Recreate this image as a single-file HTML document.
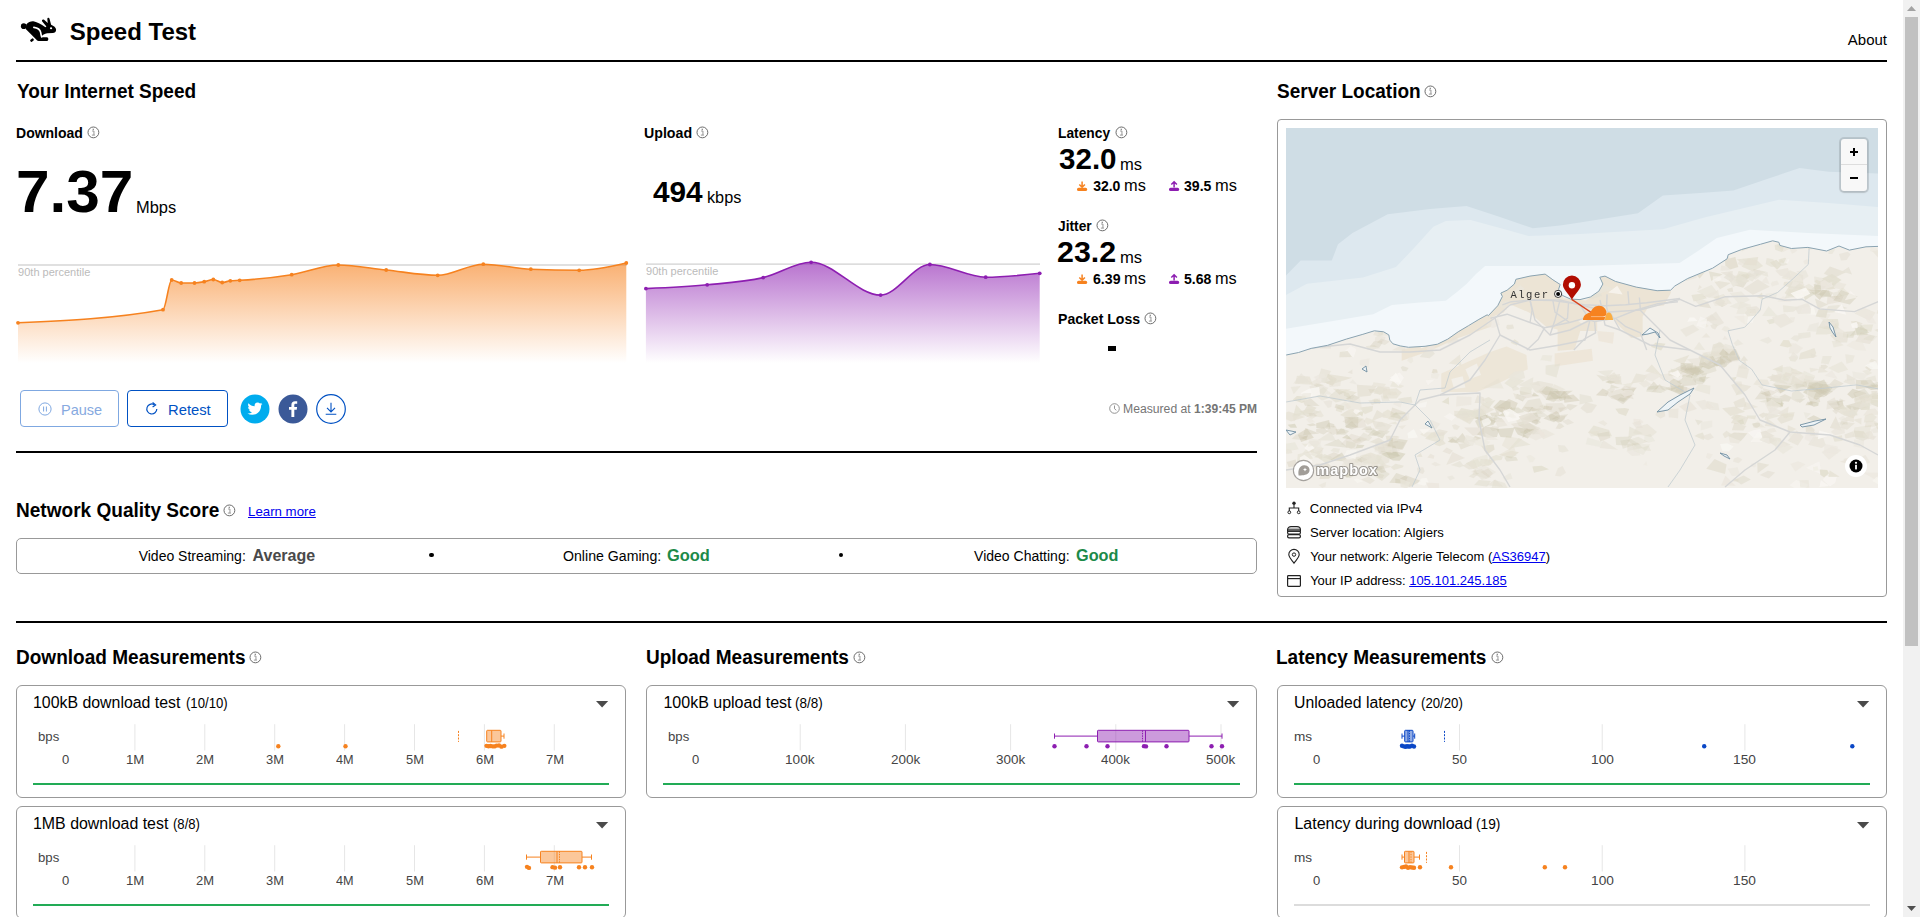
<!DOCTYPE html><html><head><meta charset="utf-8"><title>Speed Test</title><style>
*{box-sizing:border-box;margin:0;padding:0}
html,body{width:1920px;height:917px;overflow:hidden;background:#fff}
body{font-family:"Liberation Sans",sans-serif;color:#000;position:relative}
.a{position:absolute;white-space:nowrap;line-height:1}
.b{font-weight:bold}
.hr{position:absolute;background:#000;height:2px}
.panel{position:absolute;border:1px solid #999;border-radius:5px;background:#fff}
a{color:#0000ee;text-decoration:underline}
svg{position:absolute;overflow:visible}
.ax{font-size:13px;color:#444;text-align:center;width:60px;margin-left:-30px}
</style></head><body><svg id="rabbit" style="left:16px;top:12px" width="48" height="36" viewBox="0 0 1223 917"><circle cx="197" cy="360" r="72" fill="#000"/><path d="M262 318 C310 262 380 232 440 237 C520 245 640 310 750 390 L775 372 L668 242 C648 205 680 178 716 200 L808 278 L798 182 C798 148 836 138 852 165 L895 325 C960 350 1022 400 1022 452 C1022 512 980 534 940 534 L800 541 C750 546 720 568 676 592 L650 642 L785 642 C824 644 824 690 824 690 C824 736 790 739 790 739 L575 739 C545 737 528 716 528 716 L248 434 Z" fill="#000"/><path d="M455 390 C545 402 612 440 628 520 C636 570 640 600 654 632" fill="none" stroke="#fff" stroke-width="42" stroke-linecap="round"/><ellipse cx="893" cy="414" rx="29" ry="25" fill="#fff"/><rect x="360" y="686" width="96" height="60" rx="22" transform="rotate(-38 408 716)" fill="#000"/></svg><div class="a b" style="left:69.85px;top:20px;font-size:24px;">Speed Test</div><div class="a" style="left:1847.80px;top:32px;font-size:15px;">About</div><div class="hr" style="left:16px;top:60px;width:1871px"></div><div class="a b" style="left:16.54px;top:81px;font-size:20px;transform:scaleX(0.9498);transform-origin:0 0;">Your Internet Speed</div><div class="a b" style="left:16.02px;top:126px;font-size:14px;">Download</div><svg style="left:87.1px;top:126.1px" width="12.8" height="12.8" viewBox="-6.4 -6.4 12.8 12.8"><circle r="5.4" fill="none" stroke="#5c5c5c" stroke-width="0.9"/><path d="M-1.3 -1.4H0.55V2.7H1.5M-1.5 2.7H0.55" fill="none" stroke="#8c8c8c" stroke-width="0.9"/><rect x="-0.75" y="-3.7" width="1.3" height="1.3" fill="#8c8c8c"/></svg><div class="a b" style="left:15.86px;top:162px;font-size:60px;transform:scaleX(1.0054);transform-origin:0 0;">7.37</div><div class="a" style="left:136.47px;top:200px;font-size:16px;transform:scaleX(1.0268);transform-origin:0 0;">Mbps</div><div class="a b" style="left:644.11px;top:126px;font-size:14px;transform:scaleX(1.0137);transform-origin:0 0;">Upload</div><svg style="left:696.1px;top:126.1px" width="12.8" height="12.8" viewBox="-6.4 -6.4 12.8 12.8"><circle r="5.4" fill="none" stroke="#5c5c5c" stroke-width="0.9"/><path d="M-1.3 -1.4H0.55V2.7H1.5M-1.5 2.7H0.55" fill="none" stroke="#8c8c8c" stroke-width="0.9"/><rect x="-0.75" y="-3.7" width="1.3" height="1.3" fill="#8c8c8c"/></svg><div class="a b" style="left:652.60px;top:177px;font-size:30px;transform:scaleX(0.9924);transform-origin:0 0;">494</div><div class="a" style="left:706.76px;top:190px;font-size:16px;transform:scaleX(1.0156);transform-origin:0 0;">kbps</div><svg style="left:0;top:0" width="1920" height="917" viewBox="0 0 1920 917"><defs><linearGradient id="gd" x1="0" y1="0" x2="0" y2="1"><stop offset="0" stop-color="#f6821f" stop-opacity="0.63"/><stop offset="1" stop-color="#f6821f" stop-opacity="0"/></linearGradient></defs><rect x="18" y="264.25" width="609" height="1.5" fill="#d6d6d6"/><path d="M18,322.8 C66.33,320.62 114.67,318.43 163,309.7 C165.90,309.18 168.80,280.00 171.7,280 C174.87,280.00 178.03,283.00 181.2,283 C185.63,283.00 190.07,283.00 194.5,283 C197.73,283.00 200.97,282.31 204.2,281.7 C207.23,281.12 210.27,279.50 213.3,279.5 C216.27,279.50 219.23,282.50 222.2,282.5 C224.90,282.50 227.60,281.09 230.3,280.8 C233.43,280.47 236.57,280.49 239.7,280.3 C257.03,279.23 274.37,277.49 291.7,274.7 C307.23,272.20 322.77,265.00 338.3,265 C354.27,265.00 370.23,268.34 386.2,270 C403.37,271.78 420.53,275.30 437.7,275.3 C452.90,275.30 468.10,264.20 483.3,264.2 C499.13,264.20 514.97,268.48 530.8,269.2 C546.93,269.93 563.07,270.30 579.2,270.3 C594.90,270.30 610.60,266.65 626.3,263 L626.3,363 L18,363 Z" fill="url(#gd)"/><path d="M18,322.8 C66.33,320.62 114.67,318.43 163,309.7 C165.90,309.18 168.80,280.00 171.7,280 C174.87,280.00 178.03,283.00 181.2,283 C185.63,283.00 190.07,283.00 194.5,283 C197.73,283.00 200.97,282.31 204.2,281.7 C207.23,281.12 210.27,279.50 213.3,279.5 C216.27,279.50 219.23,282.50 222.2,282.5 C224.90,282.50 227.60,281.09 230.3,280.8 C233.43,280.47 236.57,280.49 239.7,280.3 C257.03,279.23 274.37,277.49 291.7,274.7 C307.23,272.20 322.77,265.00 338.3,265 C354.27,265.00 370.23,268.34 386.2,270 C403.37,271.78 420.53,275.30 437.7,275.3 C452.90,275.30 468.10,264.20 483.3,264.2 C499.13,264.20 514.97,268.48 530.8,269.2 C546.93,269.93 563.07,270.30 579.2,270.3 C594.90,270.30 610.60,266.65 626.3,263" fill="none" stroke="#f6821f" stroke-width="1.6" stroke-linejoin="round"/><circle cx="18" cy="322.8" r="1.9" fill="#f6821f"/><circle cx="163" cy="309.7" r="1.9" fill="#f6821f"/><circle cx="171.7" cy="280" r="1.9" fill="#f6821f"/><circle cx="181.2" cy="283" r="1.9" fill="#f6821f"/><circle cx="194.5" cy="283" r="1.9" fill="#f6821f"/><circle cx="204.2" cy="281.7" r="1.9" fill="#f6821f"/><circle cx="213.3" cy="279.5" r="1.9" fill="#f6821f"/><circle cx="222.2" cy="282.5" r="1.9" fill="#f6821f"/><circle cx="230.3" cy="280.8" r="1.9" fill="#f6821f"/><circle cx="239.7" cy="280.3" r="1.9" fill="#f6821f"/><circle cx="291.7" cy="274.7" r="1.9" fill="#f6821f"/><circle cx="338.3" cy="265" r="1.9" fill="#f6821f"/><circle cx="386.2" cy="270" r="1.9" fill="#f6821f"/><circle cx="437.7" cy="275.3" r="1.9" fill="#f6821f"/><circle cx="483.3" cy="264.2" r="1.9" fill="#f6821f"/><circle cx="530.8" cy="269.2" r="1.9" fill="#f6821f"/><circle cx="579.2" cy="270.3" r="1.9" fill="#f6821f"/><circle cx="626.3" cy="263" r="1.9" fill="#f6821f"/></svg><div class="a" style="left:18.10px;top:267px;font-size:11px;color:#bbb">90th percentile</div><svg style="left:0;top:0" width="1920" height="917" viewBox="0 0 1920 917"><defs><linearGradient id="gu" x1="0" y1="0" x2="0" y2="1"><stop offset="0" stop-color="#8d1eb1" stop-opacity="0.62"/><stop offset="1" stop-color="#8d1eb1" stop-opacity="0"/></linearGradient></defs><rect x="646" y="263.55" width="394" height="1.1" fill="#cbcbcb"/><path d="M645.9,288.6 C666.33,287.69 686.77,286.78 707.2,284.8 C725.87,282.99 744.53,281.92 763.2,277.6 C779.17,273.90 795.13,262.30 811.1,262.3 C834.27,262.30 857.43,295.10 880.6,295.1 C897.03,295.10 913.47,264.50 929.9,264.5 C948.50,264.50 967.10,277.20 985.7,277.2 C1003.70,277.20 1021.70,275.25 1039.7,273.3 L1039.7,363 L645.9,363 Z" fill="url(#gu)"/><path d="M645.9,288.6 C666.33,287.69 686.77,286.78 707.2,284.8 C725.87,282.99 744.53,281.92 763.2,277.6 C779.17,273.90 795.13,262.30 811.1,262.3 C834.27,262.30 857.43,295.10 880.6,295.1 C897.03,295.10 913.47,264.50 929.9,264.5 C948.50,264.50 967.10,277.20 985.7,277.2 C1003.70,277.20 1021.70,275.25 1039.7,273.3" fill="none" stroke="#8d1eb1" stroke-width="1.6" stroke-linejoin="round"/><circle cx="645.9" cy="288.6" r="1.9" fill="#8d1eb1"/><circle cx="707.2" cy="284.8" r="1.9" fill="#8d1eb1"/><circle cx="763.2" cy="277.6" r="1.9" fill="#8d1eb1"/><circle cx="811.1" cy="262.3" r="1.9" fill="#8d1eb1"/><circle cx="880.6" cy="295.1" r="1.9" fill="#8d1eb1"/><circle cx="929.9" cy="264.5" r="1.9" fill="#8d1eb1"/><circle cx="985.7" cy="277.2" r="1.9" fill="#8d1eb1"/><circle cx="1039.7" cy="273.3" r="1.9" fill="#8d1eb1"/></svg><div class="a" style="left:646.10px;top:266px;font-size:11px;color:#bbb">90th percentile</div><div class="a b" style="left:1057.89px;top:126px;font-size:14px;transform:scaleX(0.9837);transform-origin:0 0;">Latency</div><svg style="left:1115.1px;top:126.1px" width="12.8" height="12.8" viewBox="-6.4 -6.4 12.8 12.8"><circle r="5.4" fill="none" stroke="#5c5c5c" stroke-width="0.9"/><path d="M-1.3 -1.4H0.55V2.7H1.5M-1.5 2.7H0.55" fill="none" stroke="#8c8c8c" stroke-width="0.9"/><rect x="-0.75" y="-3.7" width="1.3" height="1.3" fill="#8c8c8c"/></svg><div class="a b" style="left:1058.98px;top:144px;font-size:30px;transform:scaleX(0.9854);transform-origin:0 0;">32.0</div><div class="a" style="left:1119.87px;top:157px;font-size:16px;transform:scaleX(1.0329);transform-origin:0 0;">ms</div><svg style="left:1077px;top:181.4px" width="10.2" height="10.2" viewBox="0 0 10.2 10.2"><path d="M5.1 0.4 V6 M2.3 3.4 L5.1 6.3 L7.9 3.4" fill="none" stroke="#f6821f" stroke-width="1.5"/><rect x="0" y="6.7" width="10.2" height="3.4" rx="1.6" fill="#f6821f"/></svg><div class="a b" style="left:1093.13px;top:179px;font-size:14px;">32.0</div><div class="a" style="left:1123.68px;top:178px;font-size:16px;transform:scaleX(1.0228);transform-origin:0 0;">ms</div><svg style="left:1169px;top:181.4px" width="10.2" height="10.2" viewBox="0 0 10.2 10.2"><path d="M5.1 6.6 V1 M2.3 3.5 L5.1 0.7 L7.9 3.5" fill="none" stroke="#8d1eb1" stroke-width="1.5"/><rect x="0" y="6.7" width="10.2" height="3.4" rx="1.6" fill="#8d1eb1"/></svg><div class="a b" style="left:1184.37px;top:179px;font-size:14px;transform:scaleX(1.0057);transform-origin:0 0;">39.5</div><div class="a" style="left:1214.97px;top:178px;font-size:16px;transform:scaleX(1.0278);transform-origin:0 0;">ms</div><div class="a b" style="left:1058.25px;top:219px;font-size:14px;transform:scaleX(0.9837);transform-origin:0 0;">Jitter</div><svg style="left:1095.9999999999998px;top:219.2px" width="12.8" height="12.8" viewBox="-6.4 -6.4 12.8 12.8"><circle r="5.4" fill="none" stroke="#5c5c5c" stroke-width="0.9"/><path d="M-1.3 -1.4H0.55V2.7H1.5M-1.5 2.7H0.55" fill="none" stroke="#8c8c8c" stroke-width="0.9"/><rect x="-0.75" y="-3.7" width="1.3" height="1.3" fill="#8c8c8c"/></svg><div class="a b" style="left:1057.49px;top:237px;font-size:30px;transform:scaleX(1.0116);transform-origin:0 0;">23.2</div><div class="a" style="left:1119.76px;top:250px;font-size:16px;transform:scaleX(1.0380);transform-origin:0 0;">ms</div><svg style="left:1077px;top:274.4px" width="10.2" height="10.2" viewBox="0 0 10.2 10.2"><path d="M5.1 0.4 V6 M2.3 3.4 L5.1 6.3 L7.9 3.4" fill="none" stroke="#f6821f" stroke-width="1.5"/><rect x="0" y="6.7" width="10.2" height="3.4" rx="1.6" fill="#f6821f"/></svg><div class="a b" style="left:1092.80px;top:272px;font-size:14px;transform:scaleX(1.0095);transform-origin:0 0;">6.39</div><div class="a" style="left:1123.68px;top:271px;font-size:16px;transform:scaleX(1.0228);transform-origin:0 0;">ms</div><svg style="left:1169px;top:274.4px" width="10.2" height="10.2" viewBox="0 0 10.2 10.2"><path d="M5.1 6.6 V1 M2.3 3.5 L5.1 0.7 L7.9 3.5" fill="none" stroke="#8d1eb1" stroke-width="1.5"/><rect x="0" y="6.7" width="10.2" height="3.4" rx="1.6" fill="#8d1eb1"/></svg><div class="a b" style="left:1184.40px;top:272px;font-size:14px;transform:scaleX(1.0047);transform-origin:0 0;">5.68</div><div class="a" style="left:1214.98px;top:271px;font-size:16px;transform:scaleX(1.0177);transform-origin:0 0;">ms</div><div class="a b" style="left:1057.62px;top:312px;font-size:14px;transform:scaleX(1.0044);transform-origin:0 0;">Packet Loss</div><svg style="left:1144.1px;top:312.00000000000006px" width="12.8" height="12.8" viewBox="-6.4 -6.4 12.8 12.8"><circle r="5.4" fill="none" stroke="#5c5c5c" stroke-width="0.9"/><path d="M-1.3 -1.4H0.55V2.7H1.5M-1.5 2.7H0.55" fill="none" stroke="#8c8c8c" stroke-width="0.9"/><rect x="-0.75" y="-3.7" width="1.3" height="1.3" fill="#8c8c8c"/></svg><div class="a" style="left:1108.1px;top:346.4px;width:8.1px;height:4.4px;background:#000"></div><div class="a" style="left:20px;top:390px;width:99px;height:37px;border:1px solid #7fa8e1;border-radius:4px"></div><svg style="left:37.95px;top:401.8px" width="14" height="14" viewBox="0 0 14 14"><circle cx="7" cy="7" r="6.1" fill="none" stroke="#7fa8e1" stroke-width="1"/><path d="M5.6 4.5V9.5M8.4 4.5V9.5" stroke="#7fa8e1" stroke-width="1"/></svg><div class="a" style="left:60.79px;top:402px;font-size:15px;transform:scaleX(0.9669);transform-origin:0 0;color:#86a9e0">Pause</div><div class="a" style="left:127px;top:390px;width:101px;height:37px;border:1px solid #0051c3;border-radius:4px"></div><svg style="left:145px;top:402px" width="14" height="14" viewBox="0 0 14 14"><path d="M11.8 7 A5 5 0 1 1 9.2 2.6" fill="none" stroke="#0051c3" stroke-width="1.2"/><path d="M7.6 0.6 L10.6 2.9 L7.6 5" fill="none" stroke="#0051c3" stroke-width="1.2" stroke-linejoin="miter"/></svg><div class="a" style="left:168.37px;top:402px;font-size:15px;transform:scaleX(0.9857);transform-origin:0 0;color:#0051c3">Retest</div><svg style="left:240px;top:394px" width="30" height="30" viewBox="0 0 30 30"><circle cx="15" cy="15" r="14.5" fill="#00acee"/><path transform="translate(7.5,8.3) scale(0.63)" d="M23.6 2.7c-.9.4-1.8.6-2.8.8 1-.6 1.8-1.600 2.100-2.700-.9.600-2 1-3.100 1.200A4.800 4.800 0 0 0 11.500 6.400C7.500 6.200 3.900 4.300 1.600 1.400c-1.300 2.200-.6 5.100 1.500 6.500-.8 0-1.500-.200-2.200-.600 0 2.300 1.600 4.400 3.900 4.800-.700.200-1.500.200-2.200.100.600 2 2.400 3.400 4.600 3.400A9.800 9.800 0 0 1 0 17.600a13.800 13.800 0 0 0 7.500 2.200c9.100 0 14.300-7.700 14-14.600.900-.700 1.700-1.500 2.100-2.500z" fill="#fff"/></svg><svg style="left:278px;top:394px" width="30" height="30" viewBox="0 0 30 30"><circle cx="15" cy="15" r="14.5" fill="#3b5998"/><path d="M16.300 23v-7.200h2.400l.4-2.800h-2.800v-1.800c0-.8.200-1.400 1.400-1.400h1.500V7.300c-.300 0-1.100-.100-2.200-.100-2.200 0-3.600 1.300-3.600 3.700V13H11v2.800h2.400V23z" fill="#fff"/></svg><svg style="left:316px;top:394px" width="30" height="30" viewBox="0 0 30 30"><circle cx="15" cy="15" r="14.3" fill="#fff" stroke="#0051c3" stroke-width="1.2"/><path d="M15 8.8V17.6M11 13.8L15 17.9L19 13.8M9.7 20.3H20.3" fill="none" stroke="#0051c3" stroke-width="1.1"/></svg><svg style="left:1108.9px;top:403px" width="11" height="11" viewBox="0 0 11 11"><circle cx="5.5" cy="5.5" r="4.800" fill="none" stroke="#888" stroke-width="0.9"/><path d="M5.500 2.500V5.700L7.300 7.300" fill="none" stroke="#888" stroke-width="0.9"/></svg><div class="a" style="left:1123.19px;top:403px;font-size:12px;transform:scaleX(1.0149);transform-origin:0 0;color:#757575">Measured at</div><div class="a b" style="left:1194.05px;top:403px;font-size:12px;transform:scaleX(1.0057);transform-origin:0 0;color:#757575">1:39:45 PM</div><div class="hr" style="left:16px;top:451px;width:1241px"></div><div class="a b" style="left:15.69px;top:500px;font-size:20px;transform:scaleX(0.9523);transform-origin:0 0;">Network Quality Score</div><svg style="left:222.89999999999998px;top:504.40000000000003px" width="12.8" height="12.8" viewBox="-6.4 -6.4 12.8 12.8"><circle r="5.4" fill="none" stroke="#5c5c5c" stroke-width="0.9"/><path d="M-1.3 -1.4H0.55V2.7H1.5M-1.5 2.7H0.55" fill="none" stroke="#8c8c8c" stroke-width="0.9"/><rect x="-0.75" y="-3.7" width="1.3" height="1.3" fill="#8c8c8c"/></svg><div class="a" style="left:247.78px;top:505px;font-size:13px;transform:scaleX(1.0204);transform-origin:0 0;color:#0000ee;text-decoration:underline">Learn more</div><div class="panel" style="left:16px;top:538px;width:1241px;height:36px;border-radius:5px"></div><div class="a" style="left:138.67px;top:549px;font-size:14px;">Video Streaming:</div><div class="a b" style="left:252.62px;top:548px;font-size:16px;color:#4a4a4a">Average</div><div class="a" style="left:563.07px;top:549px;font-size:14px;transform:scaleX(1.0097);transform-origin:0 0;">Online Gaming:</div><div class="a b" style="left:667.36px;top:548px;font-size:16px;transform:scaleX(1.0268);transform-origin:0 0;color:#1c8a49">Good</div><div class="a" style="left:974.08px;top:549px;font-size:14px;">Video Chatting:</div><div class="a b" style="left:1076.06px;top:548px;font-size:16px;transform:scaleX(1.0168);transform-origin:0 0;color:#1c8a49">Good</div><div class="a" style="left:429.4px;top:552.7px;width:4.6px;height:4.6px;border-radius:50%;background:#000"></div><div class="a" style="left:838.9px;top:552.7px;width:4.6px;height:4.6px;border-radius:50%;background:#000"></div><div class="hr" style="left:16px;top:621px;width:1871px"></div><div class="a b" style="left:1277.01px;top:81px;font-size:20px;transform:scaleX(0.9506);transform-origin:0 0;">Server Location</div><svg style="left:1423.9999999999998px;top:85.19999999999999px" width="12.8" height="12.8" viewBox="-6.4 -6.4 12.8 12.8"><circle r="5.4" fill="none" stroke="#5c5c5c" stroke-width="0.9"/><path d="M-1.3 -1.4H0.55V2.7H1.5M-1.5 2.7H0.55" fill="none" stroke="#8c8c8c" stroke-width="0.9"/><rect x="-0.75" y="-3.7" width="1.3" height="1.3" fill="#8c8c8c"/></svg><div class="panel" style="left:1277px;top:119px;width:610px;height:478px;border-radius:4px"></div><svg id="map" style="left:1286px;top:128px;overflow:hidden" width="592" height="360" viewBox="0 0 592 360"><defs><filter id="bl" x="-20%" y="-20%" width="140%" height="140%"><feGaussianBlur stdDeviation="2.2"/></filter><filter id="bl2"><feGaussianBlur stdDeviation="0.6"/></filter></defs><rect width="592" height="360" fill="#cfdde5"/><polygon points="0.0,147.4 14.7,132.5 45.8,132.5 52.0,116.3 66.5,104.9 101.7,86.3 144.0,81.0 180.5,78.0 214.0,89.0 246.8,100.2 274.0,97.5 294.0,94.6 352.0,85.2 376.9,67.6 414.0,65.0 447.3,62.5 484.0,50.0 513.6,40.1 542.6,43.8 592.0,45.5 592.0,362.0 0.0,362.0" fill="#dde8ef"/><polygon points="0.0,167.1 20.9,155.7 76.9,149.5 110.0,139.1 129.0,119.0 147.3,98.7 159.8,92.9 184.6,92.1 214.0,100.0 242.7,108.0 269.0,107.0 294.0,106.0 376.9,101.2 418.3,89.4 454.0,81.0 492.9,71.8 542.6,74.9 592.0,79.0 592.0,362.0 0.0,362.0" fill="#e7eff3"/><polygon points="0.0,200.7 44.0,193.5 87.2,186.2 105.9,176.9 134.0,174.5 159.8,172.7 171.0,164.0 180.5,156.1 190.0,146.0 199.1,138.1 294.0,138.1 393.5,135.0 412.0,123.0 430.8,110.1 463.9,101.8 521.9,104.9 592.0,108.0 592.0,362.0 0.0,362.0" fill="#f3f8fb"/><polygon points="0.2,227.0 12.6,224.5 25.1,220.4 41.7,217.3 60.3,211.1 76.9,206.3 88.3,202.8 97.6,203.8 102.8,206.9 103.8,212.1 106.9,215.8 114.2,217.9 122.5,219.3 139.0,218.3 151.5,216.2 161.8,211.1 172.2,203.8 182.6,197.6 192.9,191.4 201.2,186.8 202.3,187.7 211.7,177.8 216.4,168.5 214.8,165.1 221.1,162.2 228.4,156.0 229.9,151.3 244.0,148.1 259.1,146.1 266.9,151.8 274.2,156.5 272.6,161.2 276.3,167.4 284.6,171.1 294.0,171.6 304.4,169.0 312.8,163.2 316.9,156.0 313.8,149.2 319.0,148.1 329.4,153.4 350.2,159.1 371.1,162.7 384.6,162.2 388.8,158.0 401.7,150.5 426.6,140.2 441.1,130.8 442.2,126.7 455.6,121.5 474.3,116.3 486.7,112.8 492.9,114.3 493.9,117.4 505.4,120.5 521.9,119.4 540.6,123.0 553.0,118.0 563.4,122.1 580.0,118.8 592.0,118.4 592.0,362.0 0.0,362.0" fill="#f2efe9"/><clipPath id="lc"><polygon points="0.2,227.0 12.6,224.5 25.1,220.4 41.7,217.3 60.3,211.1 76.9,206.3 88.3,202.8 97.6,203.8 102.8,206.9 103.8,212.1 106.9,215.8 114.2,217.9 122.5,219.3 139.0,218.3 151.5,216.2 161.8,211.1 172.2,203.8 182.6,197.6 192.9,191.4 201.2,186.8 202.3,187.7 211.7,177.8 216.4,168.5 214.8,165.1 221.1,162.2 228.4,156.0 229.9,151.3 244.0,148.1 259.1,146.1 266.9,151.8 274.2,156.5 272.6,161.2 276.3,167.4 284.6,171.1 294.0,171.6 304.4,169.0 312.8,163.2 316.9,156.0 313.8,149.2 319.0,148.1 329.4,153.4 350.2,159.1 371.1,162.7 384.6,162.2 388.8,158.0 401.7,150.5 426.6,140.2 441.1,130.8 442.2,126.7 455.6,121.5 474.3,116.3 486.7,112.8 492.9,114.3 493.9,117.4 505.4,120.5 521.9,119.4 540.6,123.0 553.0,118.0 563.4,122.1 580.0,118.8 592.0,118.4 592.0,362.0 0.0,362.0"/></clipPath><g clip-path="url(#lc)"><polygon points="212.0,159.0 231.9,147.7 261.6,144.8 275.8,157.6 277.2,170.3 299.9,172.5 314.1,161.8 315.5,146.3 342.4,156.2 384.9,163.3 384.9,164.7 377.8,177.4 362.3,178.8 356.6,188.8 356.6,208.6 345.2,210.0 333.9,198.7 328.2,191.6 311.2,193.0 311.2,202.9 294.2,202.9 288.6,221.4 271.6,222.8 271.6,201.5 260.2,198.7 243.2,184.5 223.4,176.0 217.7,184.5 206.4,188.8 204.9,198.7 172.3,210.0 144.0,222.8 115.7,232.7 115.7,221.4 144.0,215.7 186.5,195.9 212.0,174.6" fill="#ebe3d3" opacity="0.92"/><polygon points="155.3,245.5 203.5,224.2 220.5,218.5 240.4,227.0 241.8,241.2 212.0,255.4 190.8,263.9 155.3,263.9" fill="#ece4d5" opacity="0.85"/><polygon points="179.4,241.2 190.8,235.5 195.0,246.9 183.7,251.1" fill="#f2efe9"/><polygon points="165.3,251.1 176.6,248.3 179.4,259.6 168.1,261.0" fill="#f2efe9"/><polygon points="268.7,225.6 305.6,220.7 307.0,232.7 268.7,238.4" fill="#ece4d5" opacity="0.8"/><polygon points="311.2,202.9 328.2,204.4 326.8,215.7 312.7,212.9" fill="#ece4d5" opacity="0.7"/><g filter="url(#bl2)"><polygon points="63.4,270.0 51.8,265.1 59.4,262.1 70.9,264.2" fill="#e4e0d2" opacity="0.68"/><polygon points="-8.5,287.7 2.7,283.6 19.2,289.0 5.2,293.4" fill="#e4e0d2" opacity="0.64"/><polygon points="34.4,284.0 21.4,288.9 13.4,283.6 23.7,280.5" fill="#e4e0d2" opacity="0.76"/><polygon points="53.7,267.1 47.1,260.7 65.0,261.6" fill="#e4e0d2" opacity="0.68"/><polygon points="58.1,282.6 49.6,279.0 59.6,273.2 65.9,279.6" fill="#e4e0d2" opacity="0.40"/><polygon points="86.3,283.0 78.9,286.2 73.8,279.5 87.0,278.1" fill="#e4e0d2" opacity="0.78"/><polygon points="81.7,296.8 78.1,293.2 80.2,289.4 90.2,292.9" fill="#e4e0d2" opacity="0.60"/><polygon points="54.1,287.1 60.9,282.8 66.4,280.9 75.9,286.1 65.0,291.8" fill="#e4e0d2" opacity="0.74"/><polygon points="60.3,294.4 65.3,287.5 77.8,290.6 72.2,295.6" fill="#e4e0d2" opacity="0.55"/><polygon points="27.8,288.6 28.4,285.2 34.3,282.2 37.8,288.1 35.5,289.3" fill="#e4e0d2" opacity="0.51"/><polygon points="16.4,285.5 21.9,276.4 30.5,279.8 25.2,285.9" fill="#e4e0d2" opacity="0.80"/><polygon points="111.4,296.6 102.7,295.5 109.8,293.5" fill="#e4e0d2" opacity="0.56"/><polygon points="7.9,293.4 6.2,286.6 16.4,284.8" fill="#e4e0d2" opacity="0.52"/><polygon points="25.9,291.0 20.1,288.1 22.3,286.2 30.1,286.4 30.2,288.5" fill="#e4e0d2" opacity="0.48"/><polygon points="49.8,282.7 50.8,279.0 57.6,280.7 55.4,284.4" fill="#e4e0d2" opacity="0.71"/><polygon points="100.3,303.9 89.3,300.4 86.0,293.0 95.9,293.9 106.2,297.2" fill="#e4e0d2" opacity="0.63"/><polygon points="116.2,301.2 112.2,298.2 120.3,296.9" fill="#e4e0d2" opacity="0.44"/><polygon points="96.7,289.5 96.6,284.7 101.8,281.4 110.5,286.2 107.5,290.9" fill="#e4e0d2" opacity="0.68"/><polygon points="101.7,291.0 109.6,284.6 119.1,284.6 122.3,291.8 115.3,293.7" fill="#e4e0d2" opacity="0.70"/><polygon points="94.2,264.0 84.1,264.9 82.2,261.1 89.0,261.3" fill="#e4e0d2" opacity="0.63"/><polygon points="44.4,256.8 41.5,245.9 66.2,249.7" fill="#e4e0d2" opacity="0.73"/><polygon points="54.3,258.1 43.8,259.1 41.2,251.6 55.0,252.2" fill="#e4e0d2" opacity="0.44"/><polygon points="101.9,261.1 93.8,267.1 85.8,262.7 93.2,258.3" fill="#e4e0d2" opacity="0.69"/><polygon points="41.0,256.1 36.5,250.7 47.0,249.8 47.0,254.5" fill="#e4e0d2" opacity="0.66"/><polygon points="106.4,267.7 101.7,265.2 104.0,263.4 110.2,263.7 111.6,266.7" fill="#e4e0d2" opacity="0.62"/><polygon points="30.5,258.3 22.8,255.4 31.1,250.7 35.3,254.3" fill="#e4e0d2" opacity="0.44"/><polygon points="105.2,267.4 88.0,265.8 91.6,258.1 103.4,259.0" fill="#e4e0d2" opacity="0.63"/><polygon points="38.2,257.3 30.6,259.1 27.9,257.4 32.9,255.4" fill="#e4e0d2" opacity="0.76"/><polygon points="114.6,260.1 104.2,258.6 106.5,253.4 118.2,257.9" fill="#e4e0d2" opacity="0.48"/><polygon points="86.0,258.1 87.6,254.2 100.1,256.1 98.0,258.8" fill="#e4e0d2" opacity="0.52"/><polygon points="110.7,270.6 97.5,270.6 96.6,261.5 110.5,260.3 115.8,264.6" fill="#e4e0d2" opacity="0.64"/><polygon points="32.1,250.7 35.2,240.6 45.1,242.9 41.5,250.1" fill="#e4e0d2" opacity="0.58"/><polygon points="9.1,255.7 11.0,247.8 23.6,248.5 27.0,256.7" fill="#e4e0d2" opacity="0.64"/><polygon points="2.2,325.8 -3.4,325.6 1.2,320.7 5.1,321.8 6.4,324.9" fill="#e4e0d2" opacity="0.58"/><polygon points="59.7,319.4 60.3,312.8 69.5,314.8 69.3,321.0" fill="#e4e0d2" opacity="0.59"/><polygon points="11.0,333.6 11.8,326.3 22.6,323.7 27.1,330.6" fill="#e4e0d2" opacity="0.55"/><polygon points="73.6,331.0 77.9,327.2 83.9,326.4 86.1,329.3 80.0,333.5" fill="#e4e0d2" opacity="0.75"/><polygon points="35.6,331.2 23.2,326.1 36.8,321.4" fill="#e4e0d2" opacity="0.48"/><polygon points="90.3,342.2 96.3,335.2 106.2,338.8" fill="#e4e0d2" opacity="0.52"/><polygon points="69.5,335.0 65.5,330.6 74.2,328.4 77.6,333.1" fill="#e4e0d2" opacity="0.42"/><polygon points="71.7,335.1 67.7,333.2 67.4,330.0 72.9,328.5 74.3,331.6" fill="#e4e0d2" opacity="0.49"/><polygon points="92.6,335.5 86.8,340.8 82.2,340.2 82.3,333.8 89.4,334.4" fill="#e4e0d2" opacity="0.44"/><polygon points="33.4,326.5 23.5,323.7 29.4,318.5 37.9,319.9" fill="#e4e0d2" opacity="0.60"/><polygon points="109.6,324.7 92.2,323.6 86.3,319.3 106.5,313.9" fill="#e4e0d2" opacity="0.49"/><polygon points="86.2,340.9 85.3,335.1 94.9,330.0 100.6,337.7" fill="#e4e0d2" opacity="0.45"/><polygon points="78.1,335.1 73.6,328.0 84.7,324.4 96.1,328.7 92.5,335.9" fill="#e4e0d2" opacity="0.72"/><polygon points="44.5,323.1 47.4,320.0 54.0,320.8 52.4,325.0" fill="#e4e0d2" opacity="0.54"/><polygon points="29.1,324.4 16.2,325.5 22.5,318.5" fill="#e4e0d2" opacity="0.48"/><polygon points="104.8,339.2 109.5,335.8 117.8,337.8 116.6,339.6 107.9,341.9" fill="#e4e0d2" opacity="0.71"/><polygon points="95.4,337.5 89.1,332.6 91.0,326.4 104.0,326.6 103.1,334.2" fill="#e4e0d2" opacity="0.59"/><polygon points="103.7,314.4 106.4,310.1 112.6,312.3 111.7,315.0" fill="#e4e0d2" opacity="0.43"/><polygon points="75.5,337.9 59.3,335.2 74.3,328.8 83.9,334.8" fill="#e4e0d2" opacity="0.47"/><polygon points="25.8,325.1 15.6,315.5 32.6,316.8" fill="#e4e0d2" opacity="0.48"/><polygon points="195.4,271.7 202.8,269.1 207.0,272.0 200.6,275.1" fill="#e4e0d2" opacity="0.71"/><polygon points="202.4,280.9 194.3,275.6 209.4,272.1" fill="#e4e0d2" opacity="0.79"/><polygon points="181.0,294.0 168.4,287.2 168.1,282.9 191.2,282.3 196.1,286.3" fill="#e4e0d2" opacity="0.57"/><polygon points="249.3,264.0 243.3,255.3 253.3,252.9 267.3,256.0 265.5,261.9" fill="#e4e0d2" opacity="0.59"/><polygon points="139.1,310.7 145.5,304.6 158.7,304.3 157.5,311.7 153.9,315.1" fill="#e4e0d2" opacity="0.66"/><polygon points="188.0,289.6 194.5,284.5 200.5,289.3 195.4,292.3" fill="#e4e0d2" opacity="0.69"/><polygon points="254.5,232.0 256.6,227.0 266.2,227.4 265.2,233.5" fill="#e4e0d2" opacity="0.43"/><polygon points="217.7,260.4 196.4,259.9 212.5,250.4" fill="#e4e0d2" opacity="0.42"/><polygon points="234.4,261.3 227.2,262.8 225.8,259.7 229.8,257.8" fill="#e4e0d2" opacity="0.61"/><polygon points="197.3,289.3 184.2,289.6 187.8,280.7 197.1,280.5 200.2,283.2" fill="#e4e0d2" opacity="0.46"/><polygon points="226.7,260.6 218.4,255.3 226.2,248.2 238.4,252.7" fill="#e4e0d2" opacity="0.65"/><polygon points="150.9,308.8 143.2,310.9 134.2,306.5 137.0,304.2 147.0,304.3" fill="#e4e0d2" opacity="0.46"/><polygon points="159.7,315.8 153.4,318.2 148.5,316.5 151.7,311.4 157.0,311.9" fill="#e4e0d2" opacity="0.74"/><polygon points="270.5,249.5 259.6,246.2 259.7,237.4 274.1,235.8" fill="#e4e0d2" opacity="0.61"/><polygon points="147.9,308.4 147.3,304.2 153.1,301.3 161.9,303.2 158.0,307.4" fill="#e4e0d2" opacity="0.63"/><polygon points="171.8,290.2 167.9,286.9 181.1,283.7 184.5,288.8 179.4,290.3" fill="#e4e0d2" opacity="0.73"/><polygon points="233.9,267.5 234.4,258.9 244.9,258.9 245.7,265.4" fill="#e4e0d2" opacity="0.65"/><polygon points="199.2,286.2 190.6,283.4 196.0,276.3 200.9,277.9 208.2,281.5" fill="#e4e0d2" opacity="0.64"/><polygon points="173.1,290.6 180.1,288.4 188.4,290.2 183.8,296.3" fill="#e4e0d2" opacity="0.68"/><polygon points="190.2,291.1 181.2,287.2 187.9,282.7 199.3,286.1" fill="#e4e0d2" opacity="0.78"/><polygon points="184.8,286.4 175.6,287.9 170.8,285.9 175.4,279.9 187.4,282.5" fill="#e4e0d2" opacity="0.78"/><polygon points="200.3,287.0 191.3,290.3 185.0,284.1 195.5,280.4" fill="#e4e0d2" opacity="0.62"/><polygon points="188.5,275.0 191.3,267.3 197.9,269.6 198.5,274.9" fill="#e4e0d2" opacity="0.63"/><polygon points="260.5,281.5 256.7,280.3 252.8,278.3 257.8,276.4 263.7,278.5" fill="#e4e0d2" opacity="0.53"/><polygon points="254.8,285.0 249.7,281.0 253.5,279.4 260.0,283.0" fill="#e4e0d2" opacity="0.47"/><polygon points="261.5,272.0 267.1,264.5 274.3,267.9 267.8,274.2" fill="#e4e0d2" opacity="0.80"/><polygon points="272.6,265.0 263.3,263.6 268.3,256.3 279.1,261.2" fill="#e4e0d2" opacity="0.51"/><polygon points="249.7,264.2 257.9,258.2 267.5,261.5 263.0,267.7" fill="#e4e0d2" opacity="0.71"/><polygon points="232.8,297.9 230.1,292.3 234.6,290.1 240.6,295.4" fill="#e4e0d2" opacity="0.51"/><polygon points="246.7,286.0 245.3,279.1 257.1,286.0" fill="#e4e0d2" opacity="0.43"/><polygon points="204.6,336.9 196.0,338.6 193.8,334.6 194.7,331.0 208.7,332.3" fill="#e4e0d2" opacity="0.72"/><polygon points="187.6,350.2 182.7,348.4 187.7,344.9 193.2,345.1" fill="#e4e0d2" opacity="0.59"/><polygon points="185.1,344.1 189.5,341.1 191.5,345.7" fill="#e4e0d2" opacity="0.42"/><polygon points="213.2,327.0 225.5,322.7 233.0,324.3 225.2,330.5" fill="#e4e0d2" opacity="0.77"/><polygon points="215.5,332.1 208.6,332.5 202.3,330.1 210.1,327.1 216.9,328.4" fill="#e4e0d2" opacity="0.65"/><polygon points="223.8,322.2 215.9,317.5 220.3,308.1 236.4,311.1" fill="#e4e0d2" opacity="0.46"/><polygon points="201.9,332.1 193.8,338.8 187.4,335.0 187.9,330.3 201.3,326.5" fill="#e4e0d2" opacity="0.43"/><polygon points="202.1,334.2 203.7,329.6 209.6,332.7" fill="#e4e0d2" opacity="0.50"/><polygon points="191.9,340.3 183.0,341.5 176.8,337.7 187.6,331.1" fill="#e4e0d2" opacity="0.63"/><polygon points="223.6,320.2 232.7,309.9 244.5,316.7" fill="#e4e0d2" opacity="0.61"/><polygon points="212.5,327.0 228.1,317.9 230.4,327.9" fill="#e4e0d2" opacity="0.46"/><polygon points="187.5,341.1 179.7,335.3 191.6,331.0 196.2,337.6" fill="#e4e0d2" opacity="0.66"/><polygon points="198.3,336.6 198.8,330.7 203.7,331.7 207.6,333.5 202.4,337.9" fill="#e4e0d2" opacity="0.59"/><polygon points="321.9,254.7 320.6,247.8 334.1,246.1 333.0,254.1" fill="#e4e0d2" opacity="0.63"/><polygon points="343.7,260.7 336.6,256.6 347.2,254.6" fill="#e4e0d2" opacity="0.49"/><polygon points="393.5,248.9 382.6,247.7 382.3,243.2 388.6,240.4 397.6,242.7" fill="#e4e0d2" opacity="0.74"/><polygon points="316.7,253.2 310.4,246.7 328.8,250.2" fill="#e4e0d2" opacity="0.76"/><polygon points="365.9,256.7 357.9,259.5 353.0,255.2 359.7,252.0" fill="#e4e0d2" opacity="0.45"/><polygon points="322.6,249.2 324.0,246.7 328.3,244.3 330.6,247.3 331.8,249.0" fill="#e4e0d2" opacity="0.60"/><polygon points="329.3,256.0 325.7,252.4 334.2,251.9 336.4,256.6" fill="#e4e0d2" opacity="0.73"/><polygon points="397.7,236.3 386.9,232.8 403.3,227.0" fill="#e4e0d2" opacity="0.74"/><polygon points="389.0,252.6 377.5,252.6 370.8,246.9 384.8,245.2" fill="#e4e0d2" opacity="0.44"/><polygon points="357.2,253.7 345.2,255.4 350.2,245.4 361.5,247.6" fill="#e4e0d2" opacity="0.67"/><polygon points="321.6,249.5 311.6,243.2 327.4,242.1" fill="#e4e0d2" opacity="0.54"/><polygon points="376.0,247.8 359.4,243.3 365.8,236.4" fill="#e4e0d2" opacity="0.72"/><polygon points="335.3,253.2 331.8,256.0 319.8,254.2 326.9,249.3 335.0,248.2" fill="#e4e0d2" opacity="0.67"/><polygon points="414.8,229.3 417.5,225.2 430.5,227.3 423.7,234.2" fill="#e4e0d2" opacity="0.41"/><polygon points="412.3,241.1 400.9,231.3 413.8,229.7 422.1,237.3" fill="#e4e0d2" opacity="0.47"/><polygon points="421.1,231.0 416.2,224.8 435.2,221.9 435.0,230.8" fill="#e4e0d2" opacity="0.47"/><polygon points="441.7,229.5 423.7,230.3 425.4,224.6 442.3,223.1" fill="#e4e0d2" opacity="0.58"/><polygon points="438.6,229.4 424.6,226.9 427.0,216.6 434.7,214.2 443.1,221.1" fill="#e4e0d2" opacity="0.73"/><polygon points="421.2,230.9 414.3,232.1 412.3,230.1 414.4,227.5 421.2,228.6" fill="#e4e0d2" opacity="0.50"/><polygon points="424.1,228.4 423.8,225.8 432.7,227.7" fill="#e4e0d2" opacity="0.64"/><polygon points="426.3,220.2 433.1,213.4 437.9,218.7" fill="#e4e0d2" opacity="0.54"/><polygon points="507.1,254.7 495.9,251.3 499.4,244.3 509.9,246.4" fill="#e4e0d2" opacity="0.76"/><polygon points="467.3,256.4 471.2,251.2 481.5,251.8 483.7,256.3 476.0,257.9" fill="#e4e0d2" opacity="0.51"/><polygon points="552.0,245.1 542.1,239.9 555.8,233.6 562.2,241.8" fill="#e4e0d2" opacity="0.49"/><polygon points="493.9,253.1 484.1,253.0 486.0,246.2 495.6,248.5" fill="#e4e0d2" opacity="0.77"/><polygon points="513.5,246.5 493.6,250.2 489.1,240.4 504.0,238.4" fill="#e4e0d2" opacity="0.49"/><polygon points="527.1,262.0 514.5,257.6 521.8,251.4 532.9,253.0" fill="#e4e0d2" opacity="0.68"/><polygon points="513.5,256.9 504.5,255.6 510.1,252.1" fill="#e4e0d2" opacity="0.51"/><polygon points="535.9,258.6 525.5,258.4 524.4,253.4 533.1,252.4 541.7,254.8" fill="#e4e0d2" opacity="0.63"/><polygon points="575.0,255.9 575.0,252.8 580.5,252.6 582.9,255.9 578.0,257.0" fill="#e4e0d2" opacity="0.78"/><polygon points="528.3,229.4 512.8,231.4 514.5,225.0 528.4,220.0 530.2,225.1" fill="#e4e0d2" opacity="0.74"/><polygon points="515.3,253.2 511.9,249.9 516.1,248.1 519.8,251.7" fill="#e4e0d2" opacity="0.53"/><polygon points="524.6,244.2 523.5,239.8 533.7,241.3" fill="#e4e0d2" opacity="0.51"/><polygon points="557.4,253.9 559.7,251.6 568.5,251.8 569.5,256.0 564.9,256.8" fill="#e4e0d2" opacity="0.58"/><polygon points="496.2,263.2 486.0,256.9 492.5,251.5 509.8,253.9" fill="#e4e0d2" opacity="0.50"/><polygon points="506.4,248.9 504.9,239.8 517.7,245.2" fill="#e4e0d2" opacity="0.77"/><polygon points="513.8,254.3 519.2,246.9 528.7,249.3 524.5,256.8" fill="#e4e0d2" opacity="0.80"/><polygon points="586.4,245.1 581.5,247.3 576.4,243.1 581.0,241.8" fill="#e4e0d2" opacity="0.49"/><polygon points="486.8,253.6 498.0,245.5 506.5,257.0" fill="#e4e0d2" opacity="0.61"/><polygon points="531.9,244.8 533.5,238.6 542.4,244.1" fill="#e4e0d2" opacity="0.59"/><polygon points="543.4,158.4 549.6,153.2 560.3,156.2 556.7,162.0" fill="#e4e0d2" opacity="0.45"/><polygon points="517.2,155.6 495.6,150.1 503.6,142.2 517.2,147.2" fill="#e4e0d2" opacity="0.53"/><polygon points="546.9,150.4 537.9,145.4 543.9,138.5 560.0,144.2" fill="#e4e0d2" opacity="0.76"/><polygon points="564.0,166.1 554.6,168.6 551.8,163.1 556.8,159.6" fill="#e4e0d2" opacity="0.53"/><polygon points="522.8,161.3 506.4,161.7 513.5,154.9" fill="#e4e0d2" opacity="0.53"/><polygon points="536.7,159.8 529.0,158.5 528.0,148.6 548.6,152.1" fill="#e4e0d2" opacity="0.47"/><polygon points="540.5,162.5 532.9,155.0 539.3,153.1 550.4,156.1 546.5,161.4" fill="#e4e0d2" opacity="0.48"/><polygon points="505.3,169.1 503.6,161.0 516.0,160.7 517.0,170.2" fill="#e4e0d2" opacity="0.43"/><polygon points="520.1,167.6 498.6,170.3 503.4,161.1" fill="#e4e0d2" opacity="0.62"/><polygon points="512.4,161.5 522.9,155.8 535.5,163.9" fill="#e4e0d2" opacity="0.48"/><polygon points="525.7,161.0 537.4,151.0 549.8,161.0" fill="#e4e0d2" opacity="0.78"/><polygon points="509.1,158.9 510.8,157.0 513.7,156.2 518.4,158.3 516.1,160.8" fill="#e4e0d2" opacity="0.45"/><polygon points="502.7,168.2 498.6,165.0 503.3,158.2 516.4,159.2 516.5,165.4" fill="#e4e0d2" opacity="0.73"/><polygon points="518.3,157.3 514.8,160.6 502.4,159.0 505.6,152.6 516.6,154.0" fill="#e4e0d2" opacity="0.50"/><polygon points="434.1,161.3 427.3,152.3 444.8,155.1" fill="#e4e0d2" opacity="0.70"/><polygon points="407.6,173.6 405.5,167.0 416.8,165.5 420.8,170.3" fill="#e4e0d2" opacity="0.77"/><polygon points="447.4,154.7 447.6,149.1 453.5,147.5 458.7,150.2 455.1,153.5" fill="#e4e0d2" opacity="0.61"/><polygon points="449.6,151.5 452.6,143.1 464.9,145.2 461.5,151.3" fill="#e4e0d2" opacity="0.66"/><polygon points="459.9,151.3 454.6,148.9 456.8,146.3 463.6,144.4 468.2,147.5" fill="#e4e0d2" opacity="0.52"/><polygon points="462.9,149.2 449.8,154.8 443.9,149.8 455.6,145.3" fill="#e4e0d2" opacity="0.42"/><polygon points="470.4,137.6 458.7,136.7 450.9,131.6 472.2,129.1" fill="#e4e0d2" opacity="0.77"/><polygon points="455.5,138.4 461.9,130.5 471.3,132.6 477.1,138.0 466.8,143.5" fill="#e4e0d2" opacity="0.71"/><polygon points="566.9,197.7 568.8,193.1 573.6,194.4 572.6,198.3" fill="#e4e0d2" opacity="0.64"/><polygon points="583.8,192.8 568.5,185.4 576.8,179.2 589.6,184.4" fill="#e4e0d2" opacity="0.45"/><polygon points="549.9,203.3 532.4,199.6 537.6,191.1 551.8,190.9 553.0,196.8" fill="#e4e0d2" opacity="0.69"/><polygon points="588.3,202.1 595.9,199.7 595.6,206.0" fill="#e4e0d2" opacity="0.63"/><polygon points="536.9,201.0 546.4,191.8 553.1,200.5" fill="#e4e0d2" opacity="0.75"/><polygon points="573.5,197.4 566.2,197.1 564.8,193.3 569.5,192.9 576.9,195.6" fill="#e4e0d2" opacity="0.67"/><polygon points="540.1,206.5 529.8,206.6 531.6,198.7 545.8,198.4 549.7,204.9" fill="#e4e0d2" opacity="0.61"/><polygon points="552.5,201.0 544.2,197.0 552.2,194.5" fill="#e4e0d2" opacity="0.55"/><polygon points="590.6,185.5 591.7,181.9 600.8,183.5 597.6,187.0" fill="#e4e0d2" opacity="0.60"/><polygon points="573.5,201.6 575.0,196.7 587.2,196.4 585.2,203.8" fill="#e4e0d2" opacity="0.66"/><polygon points="444.3,287.9 436.1,280.2 449.6,278.4 459.0,283.7" fill="#e4e0d2" opacity="0.74"/><polygon points="469.1,291.3 460.9,290.3 460.8,287.5 470.2,287.5" fill="#e4e0d2" opacity="0.71"/><polygon points="444.9,295.1 450.6,286.2 462.4,289.4 459.1,297.1" fill="#e4e0d2" opacity="0.70"/><polygon points="491.1,291.1 496.3,285.4 508.3,286.5 506.4,291.7 495.2,295.7" fill="#e4e0d2" opacity="0.70"/><polygon points="457.0,282.4 459.2,273.7 472.0,279.0" fill="#e4e0d2" opacity="0.57"/><polygon points="444.9,290.1 448.5,286.3 455.8,287.7 448.7,292.2" fill="#e4e0d2" opacity="0.78"/><polygon points="501.2,290.8 491.5,285.3 502.7,278.5" fill="#e4e0d2" opacity="0.57"/><polygon points="479.2,299.4 469.2,299.2 465.9,296.5 471.9,293.5" fill="#e4e0d2" opacity="0.52"/><polygon points="498.2,290.1 497.2,286.0 503.6,284.5 508.8,284.2 506.9,288.4" fill="#e4e0d2" opacity="0.70"/><polygon points="449.3,293.1 450.7,289.5 459.2,290.0 457.9,293.8" fill="#e4e0d2" opacity="0.46"/><polygon points="496.0,287.5 478.7,292.3 479.6,284.9" fill="#e4e0d2" opacity="0.62"/><polygon points="311.2,308.4 302.4,304.2 307.5,297.4 323.0,302.0 326.0,308.3" fill="#e4e0d2" opacity="0.79"/><polygon points="346.9,305.2 350.8,298.7 361.3,296.0 371.0,304.0 364.7,308.9" fill="#e4e0d2" opacity="0.50"/><polygon points="311.8,307.5 305.2,308.5 301.9,304.0 313.2,302.8" fill="#e4e0d2" opacity="0.48"/><polygon points="312.1,294.5 317.2,292.2 321.3,295.4 318.7,297.9" fill="#e4e0d2" opacity="0.44"/><polygon points="357.0,305.3 342.4,309.3 343.4,298.5" fill="#e4e0d2" opacity="0.62"/><polygon points="103.9,207.6 90.8,207.8 99.0,201.4 106.4,204.4" fill="#e4e0d2" opacity="0.40"/><polygon points="95.4,204.4 90.9,202.5 90.5,198.4 95.3,196.1 102.8,200.7" fill="#e4e0d2" opacity="0.72"/><polygon points="98.0,213.2 88.8,213.3 89.1,209.4 92.3,207.4 99.7,209.1" fill="#e4e0d2" opacity="0.44"/><polygon points="95.6,207.4 93.1,208.6 87.2,207.0 88.9,204.1 92.2,204.2" fill="#e4e0d2" opacity="0.50"/><polygon points="594.6,286.4 577.2,287.6 582.0,281.2 588.9,280.4" fill="#e4e0d2" opacity="0.44"/><polygon points="578.8,299.2 579.9,293.1 588.1,292.5 593.4,296.1 589.2,298.6" fill="#e4e0d2" opacity="0.50"/><polygon points="558.8,287.7 551.0,283.6 563.4,277.6 573.6,279.9 567.6,290.2" fill="#e4e0d2" opacity="0.73"/><polygon points="565.6,288.5 558.8,286.8 556.2,283.7 563.6,282.0 572.4,285.9" fill="#e4e0d2" opacity="0.45"/><polygon points="555.4,291.4 567.4,286.0 568.0,294.3" fill="#e4e0d2" opacity="0.57"/><polygon points="575.3,296.6 567.1,291.7 575.6,290.0" fill="#e4e0d2" opacity="0.57"/><polygon points="30.8,297.3 24.3,298.2 20.8,296.6 27.0,295.2" fill="#cbc6ae" opacity="0.37"/><polygon points="20.3,312.3 14.7,310.1 21.8,306.9" fill="#cbc6ae" opacity="0.49"/><polygon points="50.0,312.8 31.3,312.2 44.8,303.8" fill="#cbc6ae" opacity="0.20"/><polygon points="50.7,306.4 49.5,301.1 58.0,300.8 59.9,305.1" fill="#cbc6ae" opacity="0.28"/><polygon points="115.4,322.0 106.2,320.2 98.7,317.7 101.7,311.2 119.4,314.5" fill="#cbc6ae" opacity="0.22"/><polygon points="85.3,306.0 93.3,301.9 101.3,303.7 96.3,310.3" fill="#cbc6ae" opacity="0.42"/><polygon points="40.3,303.2 43.5,299.1 49.2,297.8 52.7,304.3 47.4,307.0" fill="#cbc6ae" opacity="0.26"/><polygon points="11.0,299.7 4.6,299.8 1.7,296.7 8.9,295.8" fill="#cbc6ae" opacity="0.48"/><polygon points="65.2,321.1 55.0,315.9 65.2,305.7 81.8,311.0" fill="#cbc6ae" opacity="0.22"/><polygon points="59.9,300.0 58.3,289.0 72.4,289.1 72.1,299.3" fill="#cbc6ae" opacity="0.39"/><polygon points="44.5,300.7 30.4,300.1 30.2,295.2 43.1,292.1" fill="#cbc6ae" opacity="0.44"/><polygon points="81.7,307.4 87.2,301.6 95.1,305.3 89.0,308.0" fill="#cbc6ae" opacity="0.34"/><polygon points="37.6,306.6 30.3,304.0 30.2,300.9 37.9,299.4 41.9,303.4" fill="#cbc6ae" opacity="0.31"/><polygon points="113.6,332.7 107.0,332.5 95.3,326.2 104.4,322.1 119.5,325.8" fill="#cbc6ae" opacity="0.48"/><polygon points="61.8,319.7 37.9,317.2 52.3,311.1" fill="#cbc6ae" opacity="0.30"/><polygon points="101.2,320.0 97.4,319.8 95.7,316.0 102.2,314.9 105.1,318.0" fill="#cbc6ae" opacity="0.24"/><polygon points="56.0,309.9 60.9,306.5 66.1,311.4" fill="#cbc6ae" opacity="0.48"/><polygon points="83.7,305.4 79.5,303.8 79.6,300.7 87.8,300.3 90.9,303.8" fill="#cbc6ae" opacity="0.25"/><polygon points="70.2,312.7 77.7,304.5 86.2,309.2 82.7,312.9" fill="#cbc6ae" opacity="0.21"/><polygon points="65.7,301.6 58.9,298.4 65.9,293.1 71.7,299.1" fill="#cbc6ae" opacity="0.40"/><polygon points="16.9,312.1 5.7,311.0 10.0,306.4 22.1,308.5" fill="#cbc6ae" opacity="0.26"/><polygon points="33.4,305.6 17.1,307.3 19.3,300.0" fill="#cbc6ae" opacity="0.35"/><polygon points="101.4,319.6 103.9,309.7 121.7,312.2 116.8,321.4" fill="#cbc6ae" opacity="0.42"/><polygon points="48.6,299.4 39.9,298.5 42.8,294.5 48.2,296.3" fill="#cbc6ae" opacity="0.38"/><polygon points="75.3,334.7 71.0,331.7 76.0,329.0 81.4,331.2" fill="#cbc6ae" opacity="0.36"/><polygon points="49.6,306.5 54.9,300.3 63.1,303.0 59.2,306.7" fill="#cbc6ae" opacity="0.32"/><polygon points="80.6,299.2 69.4,300.2 56.5,293.6 62.5,289.5 78.5,291.5" fill="#cbc6ae" opacity="0.22"/><polygon points="61.9,333.5 43.3,332.2 55.9,324.4" fill="#cbc6ae" opacity="0.42"/><polygon points="86.3,302.1 75.0,301.8 80.7,298.5 84.8,298.2" fill="#cbc6ae" opacity="0.33"/><polygon points="75.7,313.6 69.6,315.3 65.9,312.6 73.3,309.7" fill="#cbc6ae" opacity="0.22"/><polygon points="15.2,314.0 11.5,306.3 21.0,300.6 27.9,309.8" fill="#cbc6ae" opacity="0.43"/><polygon points="95.4,316.9 83.5,314.1 92.7,309.5 98.9,314.1" fill="#cbc6ae" opacity="0.26"/><polygon points="76.5,319.7 69.3,320.4 71.2,316.7 78.5,317.0" fill="#cbc6ae" opacity="0.48"/><polygon points="113.2,328.2 92.7,325.5 91.9,319.0 109.2,317.7" fill="#cbc6ae" opacity="0.38"/><polygon points="114.4,328.1 104.4,331.1 100.0,324.2 109.6,323.6" fill="#cbc6ae" opacity="0.48"/><polygon points="100.9,312.9 99.6,307.7 112.7,308.0 109.7,312.4" fill="#cbc6ae" opacity="0.28"/><polygon points="37.5,266.8 26.8,267.6 23.4,258.5 30.6,254.9 42.3,260.0" fill="#cbc6ae" opacity="0.17"/><polygon points="104.1,286.7 106.3,279.5 123.8,286.1" fill="#cbc6ae" opacity="0.29"/><polygon points="42.8,270.2 36.0,272.5 29.6,268.0 39.6,266.1" fill="#cbc6ae" opacity="0.20"/><polygon points="103.5,288.3 110.2,284.2 118.2,291.9" fill="#cbc6ae" opacity="0.34"/><polygon points="93.7,275.9 88.7,274.9 87.8,271.4 91.1,271.2 95.1,273.3" fill="#cbc6ae" opacity="0.25"/><polygon points="86.1,277.2 82.4,272.5 87.3,272.1 91.0,274.8" fill="#cbc6ae" opacity="0.23"/><polygon points="19.1,277.8 16.7,273.2 24.9,270.4 33.5,278.1" fill="#cbc6ae" opacity="0.31"/><polygon points="71.8,269.0 70.9,256.7 90.6,258.0 84.4,267.8" fill="#cbc6ae" opacity="0.26"/><polygon points="31.7,288.0 23.9,288.6 22.3,285.1 27.6,284.9" fill="#cbc6ae" opacity="0.24"/><polygon points="42.4,269.0 51.2,261.2 62.7,265.3 65.4,270.5 49.7,274.5" fill="#cbc6ae" opacity="0.25"/><polygon points="60.4,271.0 60.9,267.9 65.0,267.4 68.6,267.9 66.9,271.3" fill="#cbc6ae" opacity="0.15"/><polygon points="48.6,279.8 49.9,276.0 58.1,277.9 57.8,282.5" fill="#cbc6ae" opacity="0.35"/><polygon points="96.4,273.5 94.7,267.4 100.9,267.3 103.9,272.9" fill="#cbc6ae" opacity="0.20"/><polygon points="86.0,271.8 89.4,270.5 93.9,270.7 94.3,273.8 89.6,276.1" fill="#cbc6ae" opacity="0.18"/><polygon points="47.0,267.0 29.2,264.9 37.4,259.1" fill="#cbc6ae" opacity="0.15"/><polygon points="116.4,275.0 111.7,271.0 117.1,269.7 125.3,268.8 126.4,274.7" fill="#cbc6ae" opacity="0.27"/><polygon points="66.7,274.3 59.7,271.1 67.1,266.6 74.2,269.8" fill="#cbc6ae" opacity="0.35"/><polygon points="119.5,356.3 109.4,355.1 109.2,350.4 121.8,353.1" fill="#cbc6ae" opacity="0.37"/><polygon points="68.2,345.6 60.9,349.8 52.1,344.8 54.9,341.2 65.6,340.5" fill="#cbc6ae" opacity="0.38"/><polygon points="86.2,340.4 90.7,337.0 97.2,340.0 92.1,342.9" fill="#cbc6ae" opacity="0.25"/><polygon points="32.8,342.3 28.2,337.0 41.4,334.4 46.9,339.9" fill="#cbc6ae" opacity="0.29"/><polygon points="103.3,354.7 110.3,345.1 121.6,349.0 119.1,355.5" fill="#cbc6ae" opacity="0.37"/><polygon points="11.1,338.0 2.6,339.2 0.8,334.0 9.6,331.4" fill="#cbc6ae" opacity="0.29"/><polygon points="84.0,356.1 75.0,351.4 82.8,348.6 88.9,352.5" fill="#cbc6ae" opacity="0.24"/><polygon points="86.8,347.0 88.6,341.2 95.5,340.5 103.8,346.1 95.9,352.9" fill="#cbc6ae" opacity="0.27"/><polygon points="89.5,347.8 77.8,346.9 79.3,343.3 88.3,343.1" fill="#cbc6ae" opacity="0.23"/><polygon points="43.9,332.4 40.7,329.9 43.9,327.5 47.5,330.5" fill="#cbc6ae" opacity="0.16"/><polygon points="100.1,344.1 95.2,344.9 89.1,339.6 97.2,337.4" fill="#cbc6ae" opacity="0.36"/><polygon points="36.2,330.8 28.3,329.2 31.4,326.5 37.4,325.9" fill="#cbc6ae" opacity="0.18"/><polygon points="55.0,327.0 45.9,332.0 36.8,329.2 47.9,324.3" fill="#cbc6ae" opacity="0.29"/><polygon points="60.5,349.2 59.7,347.2 63.5,345.5 69.0,347.4 63.9,350.1" fill="#cbc6ae" opacity="0.34"/><polygon points="123.8,359.0 115.6,356.3 114.4,350.3 119.8,347.3 135.1,352.9" fill="#cbc6ae" opacity="0.36"/><polygon points="43.0,350.7 33.3,351.1 34.8,347.5 40.2,346.3 46.0,347.8" fill="#cbc6ae" opacity="0.33"/><polygon points="96.2,350.7 91.8,349.5 92.9,345.3 98.3,346.9" fill="#cbc6ae" opacity="0.23"/><polygon points="206.5,303.3 204.1,300.4 206.3,298.3 213.0,298.8 211.5,301.7" fill="#cbc6ae" opacity="0.24"/><polygon points="273.1,265.9 259.8,266.9 255.3,263.8 260.4,258.0 272.2,261.7" fill="#cbc6ae" opacity="0.41"/><polygon points="236.8,273.4 230.1,270.3 230.7,265.7 239.9,269.1" fill="#cbc6ae" opacity="0.40"/><polygon points="215.3,291.1 208.4,292.3 207.1,290.1 209.6,287.3" fill="#cbc6ae" opacity="0.34"/><polygon points="245.0,292.2 237.4,290.2 245.1,286.6" fill="#cbc6ae" opacity="0.22"/><polygon points="262.7,265.7 267.2,263.0 281.3,263.4 274.3,268.9 268.9,271.5" fill="#cbc6ae" opacity="0.36"/><polygon points="173.8,311.7 164.8,315.0 161.9,309.2 169.6,308.4" fill="#cbc6ae" opacity="0.27"/><polygon points="242.2,283.9 246.2,279.1 253.3,282.3" fill="#cbc6ae" opacity="0.29"/><polygon points="272.7,270.3 277.9,262.8 286.7,271.0" fill="#cbc6ae" opacity="0.47"/><polygon points="181.3,312.8 189.0,310.5 189.5,314.6" fill="#cbc6ae" opacity="0.34"/><polygon points="197.9,294.4 188.3,289.9 202.0,286.5" fill="#cbc6ae" opacity="0.40"/><polygon points="243.5,283.2 237.6,278.4 241.9,272.3 253.6,270.2 258.9,281.5" fill="#cbc6ae" opacity="0.26"/><polygon points="253.2,268.2 246.0,267.9 247.8,264.3" fill="#cbc6ae" opacity="0.44"/><polygon points="205.3,296.2 204.9,291.7 212.9,293.0" fill="#cbc6ae" opacity="0.29"/><polygon points="245.9,294.6 245.2,291.4 251.6,291.2 254.9,294.3 249.9,297.1" fill="#cbc6ae" opacity="0.31"/><polygon points="192.4,299.7 189.0,293.1 199.4,286.4 211.0,290.9 207.4,297.1" fill="#cbc6ae" opacity="0.42"/><polygon points="228.5,282.5 209.8,279.4 222.9,271.1 231.8,274.9" fill="#cbc6ae" opacity="0.43"/><polygon points="161.7,314.0 166.4,310.1 173.6,315.6" fill="#cbc6ae" opacity="0.49"/><polygon points="186.9,307.8 178.1,299.5 198.1,299.4 197.7,306.3" fill="#cbc6ae" opacity="0.22"/><polygon points="163.7,326.2 156.5,323.6 160.7,319.4 167.0,322.8" fill="#cbc6ae" opacity="0.22"/><polygon points="224.5,282.3 217.3,285.6 207.1,279.2 214.1,272.0 224.5,273.8" fill="#cbc6ae" opacity="0.49"/><polygon points="178.9,329.9 160.2,337.1 166.5,324.0" fill="#cbc6ae" opacity="0.22"/><polygon points="210.9,309.0 201.8,309.7 190.9,306.6 198.7,298.0 213.4,301.1" fill="#cbc6ae" opacity="0.40"/><polygon points="213.6,288.1 205.9,288.7 204.1,285.0 212.5,284.2" fill="#cbc6ae" opacity="0.37"/><polygon points="177.8,337.7 173.6,339.6 164.9,337.0 174.0,333.0" fill="#cbc6ae" opacity="0.21"/><polygon points="230.5,289.9 226.5,290.6 222.6,288.4 224.7,285.8 229.5,287.2" fill="#cbc6ae" opacity="0.49"/><polygon points="275.7,269.3 270.8,271.1 270.2,267.2" fill="#cbc6ae" opacity="0.30"/><polygon points="186.1,317.0 174.9,321.6 172.3,316.0 178.5,314.9" fill="#cbc6ae" opacity="0.28"/><polygon points="279.3,271.7 274.2,273.0 271.7,269.3 280.1,268.6" fill="#cbc6ae" opacity="0.44"/><polygon points="186.2,311.2 189.0,308.0 195.8,310.0 191.1,312.6" fill="#cbc6ae" opacity="0.45"/><polygon points="207.5,293.5 215.6,290.2 218.6,294.2" fill="#cbc6ae" opacity="0.45"/><polygon points="275.1,270.4 268.8,263.0 286.8,262.8" fill="#cbc6ae" opacity="0.39"/><polygon points="197.3,295.2 190.1,289.8 200.9,287.5 208.5,293.0" fill="#cbc6ae" opacity="0.35"/><polygon points="219.0,283.5 210.5,284.8 208.3,280.0 218.4,278.7" fill="#cbc6ae" opacity="0.29"/><polygon points="276.3,270.3 259.9,272.1 264.2,262.5" fill="#cbc6ae" opacity="0.48"/><polygon points="273.7,273.6 260.8,272.1 252.8,262.7 274.4,262.9" fill="#cbc6ae" opacity="0.24"/><polygon points="242.2,291.0 252.9,281.2 262.4,288.2" fill="#cbc6ae" opacity="0.21"/><polygon points="184.1,315.9 169.0,313.6 176.5,305.1" fill="#cbc6ae" opacity="0.41"/><polygon points="225.1,309.8 214.6,309.1 210.4,300.9 228.6,299.7" fill="#cbc6ae" opacity="0.46"/><polygon points="212.1,287.9 225.8,278.9 228.7,289.6" fill="#cbc6ae" opacity="0.48"/><polygon points="274.3,284.3 272.1,279.7 280.3,279.3" fill="#cbc6ae" opacity="0.28"/><polygon points="237.0,270.8 233.1,262.5 253.9,268.1" fill="#cbc6ae" opacity="0.22"/><polygon points="293.9,272.7 278.4,274.8 277.4,267.9 287.4,266.5" fill="#cbc6ae" opacity="0.43"/><polygon points="242.8,284.5 235.2,282.1 237.5,278.8 247.5,279.1" fill="#cbc6ae" opacity="0.37"/><polygon points="228.1,286.0 225.4,279.8 232.4,279.6 238.5,283.9" fill="#cbc6ae" opacity="0.34"/><polygon points="257.2,281.3 258.2,277.9 266.9,278.6 265.4,282.3" fill="#cbc6ae" opacity="0.45"/><polygon points="246.4,306.6 242.7,304.3 245.4,300.8 252.5,301.3 254.0,306.1" fill="#cbc6ae" opacity="0.27"/><polygon points="245.3,306.1 236.4,309.7 238.4,301.4" fill="#cbc6ae" opacity="0.41"/><polygon points="252.6,301.6 236.2,305.7 224.9,296.0 240.5,292.8" fill="#cbc6ae" opacity="0.22"/><polygon points="272.5,294.9 265.3,290.4 271.2,288.8 279.4,287.7 278.3,291.9" fill="#cbc6ae" opacity="0.29"/><polygon points="247.6,306.4 232.9,297.3 243.7,295.0 254.3,300.5" fill="#cbc6ae" opacity="0.26"/><polygon points="241.8,310.5 231.7,306.4 227.4,299.1 248.6,301.8" fill="#cbc6ae" opacity="0.46"/><polygon points="264.4,292.2 262.4,287.7 270.3,283.0 272.9,285.1 274.3,289.3" fill="#cbc6ae" opacity="0.45"/><polygon points="275.3,294.1 264.8,292.5 270.7,287.4 282.1,286.2" fill="#cbc6ae" opacity="0.31"/><polygon points="248.3,289.5 242.8,286.1 250.6,284.8 252.3,288.1" fill="#cbc6ae" opacity="0.36"/><polygon points="284.2,282.4 280.0,279.2 281.5,276.3 284.8,276.2 291.7,277.4" fill="#cbc6ae" opacity="0.31"/><polygon points="238.2,303.2 240.8,299.9 244.9,303.2" fill="#cbc6ae" opacity="0.36"/><polygon points="245.1,307.2 233.5,304.6 244.4,300.2" fill="#cbc6ae" opacity="0.20"/><polygon points="235.4,291.0 244.8,286.0 255.1,289.4 251.1,295.9" fill="#cbc6ae" opacity="0.38"/><polygon points="260.7,282.5 259.5,275.6 276.1,274.9 281.7,281.0 269.4,286.2" fill="#cbc6ae" opacity="0.24"/><polygon points="268.0,294.2 257.4,290.6 265.2,285.3 273.8,290.5" fill="#cbc6ae" opacity="0.40"/><polygon points="238.2,291.4 246.7,287.0 252.3,293.4" fill="#cbc6ae" opacity="0.36"/><polygon points="188.2,357.0 192.9,352.0 204.8,353.0 201.0,358.6" fill="#cbc6ae" opacity="0.25"/><polygon points="202.7,349.6 194.5,344.1 202.1,340.2 207.2,345.4" fill="#cbc6ae" opacity="0.22"/><polygon points="205.4,349.2 195.9,352.0 187.1,343.0 195.6,341.1" fill="#cbc6ae" opacity="0.17"/><polygon points="218.9,352.5 216.7,349.3 224.4,345.1 226.6,350.6" fill="#cbc6ae" opacity="0.15"/><polygon points="200.4,350.8 186.4,346.6 188.2,341.6 198.1,337.1 210.2,344.0" fill="#cbc6ae" opacity="0.14"/><polygon points="220.7,333.4 218.3,329.7 220.9,327.9 230.1,328.9 232.0,332.6" fill="#cbc6ae" opacity="0.32"/><polygon points="326.2,264.8 320.7,262.3 323.7,260.2 329.2,260.8" fill="#cbc6ae" opacity="0.23"/><polygon points="401.0,264.6 389.0,263.5 392.7,256.6 401.3,259.3" fill="#cbc6ae" opacity="0.29"/><polygon points="393.7,258.8 385.1,262.5 383.6,253.2 387.9,250.7 396.5,254.5" fill="#cbc6ae" opacity="0.46"/><polygon points="334.4,267.7 343.4,262.1 347.7,271.3" fill="#cbc6ae" opacity="0.22"/><polygon points="320.6,268.2 309.9,267.2 316.6,260.6 322.9,263.4" fill="#cbc6ae" opacity="0.43"/><polygon points="324.1,260.6 325.0,256.5 334.0,260.1" fill="#cbc6ae" opacity="0.32"/><polygon points="397.4,266.9 379.1,260.2 389.0,256.9 404.7,260.4" fill="#cbc6ae" opacity="0.22"/><polygon points="411.6,248.6 406.1,253.2 396.0,251.9 396.8,247.0 407.7,245.7" fill="#cbc6ae" opacity="0.32"/><polygon points="389.1,240.4 398.7,235.6 402.8,246.6" fill="#cbc6ae" opacity="0.33"/><polygon points="337.9,274.2 331.2,272.1 334.1,269.2 341.6,270.8" fill="#cbc6ae" opacity="0.42"/><polygon points="398.4,258.1 390.4,253.8 403.5,246.6 409.8,251.0 410.4,257.1" fill="#cbc6ae" opacity="0.36"/><polygon points="324.7,256.1 319.1,254.1 323.7,252.5 329.6,254.0" fill="#cbc6ae" opacity="0.41"/><polygon points="415.3,244.2 407.4,245.6 398.7,241.3 410.7,238.5" fill="#cbc6ae" opacity="0.46"/><polygon points="397.4,267.9 381.3,261.3 397.7,256.7" fill="#cbc6ae" opacity="0.46"/><polygon points="360.8,261.8 367.7,253.4 374.8,260.9" fill="#cbc6ae" opacity="0.36"/><polygon points="337.6,273.1 325.9,271.0 318.9,265.3 337.6,260.1 348.4,266.2" fill="#cbc6ae" opacity="0.24"/><polygon points="346.0,265.8 334.6,261.5 338.1,258.1 350.9,259.5" fill="#cbc6ae" opacity="0.24"/><polygon points="406.3,241.5 394.5,242.2 394.6,235.1 407.0,235.3" fill="#cbc6ae" opacity="0.42"/><polygon points="360.2,263.5 362.0,258.6 372.8,257.2 385.0,260.0 374.8,265.0" fill="#cbc6ae" opacity="0.32"/><polygon points="394.1,240.3 401.7,235.9 410.1,237.5 409.7,242.6" fill="#cbc6ae" opacity="0.33"/><polygon points="384.3,245.3 390.4,243.2 391.2,248.1" fill="#cbc6ae" opacity="0.29"/><polygon points="345.2,268.1 335.7,261.4 349.9,259.9" fill="#cbc6ae" opacity="0.41"/><polygon points="413.3,245.5 395.9,249.2 395.2,239.8 410.5,240.0" fill="#cbc6ae" opacity="0.22"/><polygon points="379.0,261.7 365.4,264.2 373.6,256.1" fill="#cbc6ae" opacity="0.24"/><polygon points="337.2,267.9 337.3,265.6 343.9,266.2 345.5,267.7 341.5,270.1" fill="#cbc6ae" opacity="0.24"/><polygon points="324.3,268.3 339.5,264.3 344.9,268.9 337.0,276.3" fill="#cbc6ae" opacity="0.35"/><polygon points="444.2,227.8 439.8,226.9 439.2,223.0 448.6,223.3 449.6,227.3" fill="#cbc6ae" opacity="0.37"/><polygon points="433.4,239.3 431.7,236.6 441.1,235.1 440.3,239.0" fill="#cbc6ae" opacity="0.20"/><polygon points="396.6,243.9 401.7,238.5 417.4,237.9 410.7,248.7" fill="#cbc6ae" opacity="0.37"/><polygon points="430.5,243.1 416.4,247.4 408.0,238.8 428.9,236.9" fill="#cbc6ae" opacity="0.27"/><polygon points="410.9,256.3 406.7,251.5 414.3,249.4 420.2,252.3 416.5,256.3" fill="#cbc6ae" opacity="0.30"/><polygon points="452.7,233.0 443.8,233.7 443.3,228.0 453.9,228.8" fill="#cbc6ae" opacity="0.24"/><polygon points="430.4,238.7 424.4,231.8 434.0,228.7 440.6,233.7" fill="#cbc6ae" opacity="0.33"/><polygon points="433.1,225.9 436.9,220.8 449.7,221.0 454.5,231.2 443.3,233.2" fill="#cbc6ae" opacity="0.50"/><polygon points="446.5,234.0 434.2,235.9 434.0,228.4 441.1,228.0" fill="#cbc6ae" opacity="0.33"/><polygon points="417.1,253.5 412.8,248.9 424.3,249.0" fill="#cbc6ae" opacity="0.27"/><polygon points="422.6,241.3 413.0,237.6 415.4,227.6 427.0,228.0 432.1,236.9" fill="#cbc6ae" opacity="0.50"/><polygon points="418.0,254.4 407.9,251.2 420.2,247.7" fill="#cbc6ae" opacity="0.27"/><polygon points="418.5,244.1 408.6,248.7 397.5,241.8 412.6,239.4" fill="#cbc6ae" opacity="0.50"/><polygon points="414.3,236.6 419.1,229.4 428.3,233.8 422.9,237.7" fill="#cbc6ae" opacity="0.24"/><polygon points="425.6,234.6 431.4,232.4 436.5,230.8 439.4,236.1 431.2,238.2" fill="#cbc6ae" opacity="0.32"/><polygon points="404.5,251.4 406.3,245.1 420.9,245.6 418.2,254.6" fill="#cbc6ae" opacity="0.27"/><polygon points="438.1,239.8 427.3,236.6 435.0,227.9 445.5,233.5" fill="#cbc6ae" opacity="0.36"/><polygon points="521.1,260.5 523.1,254.4 530.0,254.2 537.9,256.4 531.2,261.8" fill="#cbc6ae" opacity="0.39"/><polygon points="540.2,268.1 529.2,261.4 539.3,256.1 546.8,259.6" fill="#cbc6ae" opacity="0.40"/><polygon points="517.0,264.3 524.3,257.8 542.1,263.9 530.5,272.0" fill="#cbc6ae" opacity="0.49"/><polygon points="570.0,261.3 569.7,252.0 584.9,251.5 591.1,258.9" fill="#cbc6ae" opacity="0.38"/><polygon points="586.7,271.8 575.5,274.6 572.7,269.1 580.0,267.4" fill="#cbc6ae" opacity="0.21"/><polygon points="533.6,267.1 522.2,257.7 538.1,251.4 544.2,261.6" fill="#cbc6ae" opacity="0.42"/><polygon points="502.8,273.8 496.8,273.2 493.4,268.8 498.9,266.3 505.7,269.2" fill="#cbc6ae" opacity="0.35"/><polygon points="584.5,268.1 569.9,272.8 567.3,264.9 578.4,260.4" fill="#cbc6ae" opacity="0.30"/><polygon points="526.7,277.2 519.4,277.2 521.6,273.8 526.3,273.8" fill="#cbc6ae" opacity="0.43"/><polygon points="581.0,279.7 565.8,282.5 559.3,277.7 575.8,273.0" fill="#cbc6ae" opacity="0.39"/><polygon points="592.4,279.2 584.4,276.0 585.2,271.6 596.0,272.8 599.6,274.8" fill="#cbc6ae" opacity="0.34"/><polygon points="532.3,277.7 527.9,278.7 521.8,276.0 524.7,272.9 532.7,274.7" fill="#cbc6ae" opacity="0.48"/><polygon points="543.0,277.0 541.0,273.4 551.9,272.3 553.9,277.2" fill="#cbc6ae" opacity="0.40"/><polygon points="494.5,265.2 487.9,256.4 505.9,258.0" fill="#cbc6ae" opacity="0.46"/><polygon points="585.7,271.0 585.8,267.3 591.8,265.1 597.0,267.9 594.5,271.0" fill="#cbc6ae" opacity="0.46"/><polygon points="468.8,271.3 475.6,262.2 490.6,271.2" fill="#cbc6ae" opacity="0.31"/><polygon points="527.5,293.1 520.6,291.0 527.7,287.2 535.4,291.0" fill="#cbc6ae" opacity="0.44"/><polygon points="510.5,259.7 509.1,254.1 520.3,253.5 521.6,258.6" fill="#cbc6ae" opacity="0.31"/><polygon points="587.2,259.5 584.2,256.2 590.9,254.0 596.8,254.0 599.8,257.5" fill="#cbc6ae" opacity="0.30"/><polygon points="559.7,273.1 551.1,274.7 554.1,270.4" fill="#cbc6ae" opacity="0.24"/><polygon points="480.6,270.9 476.4,259.9 491.0,264.1" fill="#cbc6ae" opacity="0.22"/><polygon points="534.2,274.1 524.8,276.0 522.0,269.1 533.4,270.1" fill="#cbc6ae" opacity="0.33"/><polygon points="513.9,275.0 508.7,271.3 519.8,270.4" fill="#cbc6ae" opacity="0.35"/><polygon points="585.1,262.1 578.7,258.4 590.9,256.2 597.5,260.8" fill="#cbc6ae" opacity="0.49"/><polygon points="566.4,270.4 561.2,266.2 566.6,260.7 580.5,265.3" fill="#cbc6ae" opacity="0.49"/><polygon points="496.6,278.6 489.0,276.5 490.1,274.4 498.0,274.9" fill="#cbc6ae" opacity="0.34"/><polygon points="521.9,269.6 523.0,260.8 534.7,258.9 547.0,263.6 538.2,269.0" fill="#cbc6ae" opacity="0.35"/><polygon points="489.6,277.7 482.0,277.1 480.7,271.6 487.4,273.1" fill="#cbc6ae" opacity="0.22"/><polygon points="495.3,279.6 485.7,278.0 486.7,268.7 497.7,272.5" fill="#cbc6ae" opacity="0.23"/><polygon points="494.2,265.4 488.4,262.6 494.6,258.7 500.2,262.5" fill="#cbc6ae" opacity="0.22"/><polygon points="550.0,283.2 542.3,275.8 556.5,272.2 557.9,280.0" fill="#cbc6ae" opacity="0.50"/><polygon points="482.2,274.9 472.8,273.8 482.6,271.0" fill="#cbc6ae" opacity="0.25"/><polygon points="480.9,268.3 474.2,265.3 483.1,262.8 485.1,267.0" fill="#cbc6ae" opacity="0.43"/><polygon points="550.3,260.6 545.6,263.9 534.4,262.8 532.8,256.3 550.6,255.7" fill="#cbc6ae" opacity="0.25"/><polygon points="589.1,268.5 580.1,270.5 584.1,267.0" fill="#cbc6ae" opacity="0.21"/><polygon points="518.3,257.8 510.5,260.0 507.3,256.1 516.5,254.6" fill="#cbc6ae" opacity="0.24"/><polygon points="521.1,260.1 512.4,263.7 500.0,259.2 513.2,255.1" fill="#cbc6ae" opacity="0.20"/><polygon points="481.1,278.2 480.3,270.3 495.6,270.1 497.0,278.4" fill="#cbc6ae" opacity="0.48"/><polygon points="563.9,176.5 547.3,172.4 555.1,162.1 571.5,168.5" fill="#cbc6ae" opacity="0.39"/><polygon points="548.6,171.9 543.4,168.4 550.2,167.8 554.5,170.6" fill="#cbc6ae" opacity="0.21"/><polygon points="561.3,180.0 546.9,184.4 539.1,184.7 542.2,178.1 552.7,176.9" fill="#cbc6ae" opacity="0.21"/><polygon points="533.7,172.0 522.8,161.5 541.4,161.9" fill="#cbc6ae" opacity="0.45"/><polygon points="507.1,183.8 497.5,184.3 496.9,177.3 514.0,179.3" fill="#cbc6ae" opacity="0.20"/><polygon points="519.1,172.3 515.3,162.7 531.1,164.6" fill="#cbc6ae" opacity="0.34"/><polygon points="515.4,166.9 522.1,160.3 528.0,166.2" fill="#cbc6ae" opacity="0.18"/><polygon points="529.4,166.9 527.7,156.1 540.0,158.4" fill="#cbc6ae" opacity="0.42"/><polygon points="530.8,166.4 542.4,162.2 546.8,164.7 544.7,169.2" fill="#cbc6ae" opacity="0.35"/><polygon points="548.2,169.9 546.2,164.8 552.3,163.5 556.4,167.8" fill="#cbc6ae" opacity="0.20"/><polygon points="533.2,165.9 535.7,161.8 542.8,162.8 545.2,168.0 535.9,169.5" fill="#cbc6ae" opacity="0.41"/><polygon points="555.1,173.7 540.7,176.5 541.5,168.2 557.8,167.7" fill="#cbc6ae" opacity="0.22"/><polygon points="414.6,178.3 409.0,172.7 416.5,171.3 422.2,173.8" fill="#cbc6ae" opacity="0.18"/><polygon points="457.2,159.8 449.1,157.4 450.0,151.5 460.7,154.4" fill="#cbc6ae" opacity="0.33"/><polygon points="416.7,168.4 432.1,162.1 433.7,171.0" fill="#cbc6ae" opacity="0.16"/><polygon points="443.5,178.6 452.8,174.1 463.0,176.9 452.8,181.2" fill="#cbc6ae" opacity="0.15"/><polygon points="436.1,179.0 430.3,176.2 432.0,174.1 440.3,174.9 440.8,176.7" fill="#cbc6ae" opacity="0.28"/><polygon points="483.7,158.8 466.9,166.8 457.6,160.4 471.8,151.3" fill="#cbc6ae" opacity="0.24"/><polygon points="466.2,153.4 453.1,147.0 473.7,144.8" fill="#cbc6ae" opacity="0.20"/><polygon points="481.0,144.0 470.6,148.3 467.2,141.1" fill="#cbc6ae" opacity="0.27"/><polygon points="411.8,178.3 421.5,173.8 425.2,180.3" fill="#cbc6ae" opacity="0.31"/><polygon points="435.1,176.5 427.5,169.3 437.6,166.0 445.9,175.6" fill="#cbc6ae" opacity="0.18"/><polygon points="561.1,214.4 550.6,214.6 544.0,206.9 552.3,204.0 562.5,206.4" fill="#cbc6ae" opacity="0.23"/><polygon points="549.2,216.0 550.2,211.5 555.4,214.6" fill="#cbc6ae" opacity="0.15"/><polygon points="567.3,209.7 556.7,209.4 557.2,204.0 569.3,203.0" fill="#cbc6ae" opacity="0.32"/><polygon points="581.6,206.8 571.3,207.5 567.8,197.6 581.4,201.4" fill="#cbc6ae" opacity="0.34"/><polygon points="576.6,211.2 583.9,206.9 591.5,208.3 586.8,213.0" fill="#cbc6ae" opacity="0.15"/><polygon points="569.3,213.5 574.9,204.3 589.1,208.1 583.8,215.9" fill="#cbc6ae" opacity="0.22"/><polygon points="563.5,207.9 574.3,196.5 583.6,204.7" fill="#cbc6ae" opacity="0.32"/><polygon points="471.1,300.1 467.6,299.5 466.3,295.3 473.7,295.0 474.1,297.8" fill="#cbc6ae" opacity="0.29"/><polygon points="455.0,296.7 450.8,293.1 456.6,291.3 458.3,295.6" fill="#cbc6ae" opacity="0.27"/><polygon points="445.8,302.2 448.3,294.8 460.2,298.1 457.4,302.5" fill="#cbc6ae" opacity="0.26"/><polygon points="491.7,320.5 495.9,312.5 504.6,316.8" fill="#cbc6ae" opacity="0.23"/><polygon points="490.5,303.6 485.0,304.8 478.5,304.3 483.0,300.8 488.4,300.1" fill="#cbc6ae" opacity="0.16"/><polygon points="356.6,320.0 341.4,322.9 341.2,316.1 352.4,314.7" fill="#cbc6ae" opacity="0.21"/><polygon points="314.4,313.4 311.0,305.8 322.9,303.5 324.4,309.7" fill="#cbc6ae" opacity="0.29"/><polygon points="299.7,316.3 301.6,309.6 316.9,313.9 314.4,319.0" fill="#cbc6ae" opacity="0.13"/><polygon points="332.0,321.8 313.6,320.1 317.3,312.3" fill="#cbc6ae" opacity="0.17"/><polygon points="362.4,314.8 358.1,312.9 358.4,308.0 364.6,306.1 369.2,313.1" fill="#cbc6ae" opacity="0.13"/><polygon points="361.8,313.8 349.0,317.7 341.0,312.6 352.3,308.7" fill="#cbc6ae" opacity="0.20"/><polygon points="336.9,320.8 334.3,312.5 345.1,311.3 352.5,315.4" fill="#cbc6ae" opacity="0.25"/><polygon points="340.4,317.4 330.2,317.0 329.4,309.0 346.2,308.4" fill="#cbc6ae" opacity="0.30"/><polygon points="358.5,322.4 355.8,319.7 362.5,317.5 365.2,323.1" fill="#cbc6ae" opacity="0.20"/><polygon points="357.3,326.9 347.8,323.1 345.4,315.6 364.2,316.6" fill="#cbc6ae" opacity="0.15"/><polygon points="98.8,217.0 91.0,214.6 95.3,210.6 103.8,213.5" fill="#cbc6ae" opacity="0.24"/><polygon points="96.4,214.9 93.3,219.6 83.7,218.4 88.1,213.3 96.4,212.8" fill="#cbc6ae" opacity="0.31"/><polygon points="94.0,220.3 81.9,221.7 79.8,218.2 88.1,217.0" fill="#cbc6ae" opacity="0.21"/><polygon points="566.4,308.4 568.5,299.5 585.3,297.0 582.7,310.6" fill="#cbc6ae" opacity="0.18"/><polygon points="553.5,299.7 557.9,293.7 568.9,295.2 561.1,301.7" fill="#cbc6ae" opacity="0.23"/><polygon points="569.6,310.5 567.8,302.4 577.6,303.3 582.6,309.9 577.0,312.9" fill="#cbc6ae" opacity="0.27"/><polygon points="553.8,298.4 548.9,295.4 556.5,293.0 559.2,295.3" fill="#cbc6ae" opacity="0.15"/><polygon points="561.7,296.5 553.8,296.6 555.6,292.5 561.4,292.2" fill="#cbc6ae" opacity="0.24"/><polygon points="596.1,304.1 587.4,305.0 584.8,301.7 593.3,297.7 598.7,300.7" fill="#cbc6ae" opacity="0.14"/><polygon points="591.5,301.5 587.9,294.8 601.6,296.2" fill="#cbc6ae" opacity="0.23"/></g><polygon points="524.3,165.8 511.9,171.7 504.5,165.2 519.8,159.6" fill="#f9f7f3" opacity="0.88"/><polygon points="201.3,291.1 197.4,292.4 194.5,289.0 198.1,287.7 199.9,288.1" fill="#e9e5db" opacity="0.57"/><polygon points="143.7,143.3 135.6,140.1 133.6,132.8 146.6,134.7 152.0,138.0" fill="#e6e2d7" opacity="0.85"/><polygon points="18.0,208.1 3.7,209.0 7.6,200.7" fill="#ebe7de" opacity="0.64"/><polygon points="236.3,272.0 232.7,269.3 235.6,266.3 240.2,268.5 238.8,271.3" fill="#e9e5db" opacity="0.57"/><polygon points="473.7,347.1 481.9,342.8 489.1,344.5 482.8,350.4" fill="#e6e2d7" opacity="0.75"/><polygon points="556.6,312.7 548.5,313.7 546.9,309.0 556.0,307.3" fill="#e5e1d5" opacity="0.78"/><polygon points="38.4,177.2 35.8,173.5 40.6,170.5 45.1,174.7" fill="#ebe7de" opacity="0.72"/><polygon points="441.0,176.9 428.9,178.0 426.1,172.2 443.0,167.7" fill="#ebe7de" opacity="0.75"/><polygon points="448.2,351.7 457.5,347.5 464.8,351.5 455.3,356.5" fill="#e5e1d5" opacity="0.84"/><polygon points="155.8,274.0 162.8,269.1 163.1,276.5" fill="#e2decf" opacity="0.83"/><polygon points="506.1,151.0 493.9,147.6 489.3,142.5 501.8,140.1" fill="#e9e5db" opacity="0.83"/><polygon points="592.3,267.1 585.7,267.7 585.4,263.1 591.1,263.1" fill="#e6e2d7" opacity="0.88"/><polygon points="38.2,254.2 42.1,245.9 51.0,251.1 46.6,257.8" fill="#e2decf" opacity="0.87"/><polygon points="519.8,290.4 517.7,284.3 524.9,285.5" fill="#ebe7de" opacity="0.89"/><polygon points="467.7,310.0 461.8,304.6 467.9,302.0 474.4,301.1 478.1,309.2" fill="#f9f7f3" opacity="0.70"/><polygon points="464.5,338.3 465.4,335.5 470.1,334.8 470.4,338.1 468.0,339.3" fill="#ebe7de" opacity="0.71"/><polygon points="549.2,354.8 543.9,358.4 536.9,352.0 539.0,347.7 550.9,348.8" fill="#f9f7f3" opacity="0.69"/><polygon points="575.1,272.7 568.0,265.5 577.0,263.0 583.2,268.5" fill="#e2decf" opacity="0.56"/><polygon points="539.7,316.9 535.8,320.0 522.1,316.8 527.4,308.6 537.3,309.9" fill="#e5e1d5" opacity="0.58"/><polygon points="169.9,288.9 165.8,292.9 157.8,288.8 163.8,284.9" fill="#f9f7f3" opacity="0.53"/><polygon points="475.0,154.5 480.2,148.2 483.5,156.0" fill="#e9e5db" opacity="0.56"/><polygon points="151.9,244.4 148.0,245.6 145.7,244.7 147.0,241.0 150.8,241.5" fill="#e2decf" opacity="0.87"/><polygon points="188.0,158.3 186.4,150.8 194.9,149.4 194.6,156.3" fill="#e5e1d5" opacity="0.88"/><polygon points="571.2,251.5 561.0,252.8 560.6,246.1" fill="#e5e1d5" opacity="0.72"/><polygon points="578.2,276.3 577.0,268.6 589.4,264.5 597.0,273.6" fill="#e2decf" opacity="0.67"/><polygon points="411.7,192.9 401.3,193.7 403.5,189.4 408.3,189.6" fill="#f9f7f3" opacity="0.84"/><polygon points="7.4,255.6 15.2,245.3 25.0,254.5" fill="#e5e1d5" opacity="0.53"/><polygon points="453.8,155.8 447.1,158.9 442.7,151.3 450.5,149.7" fill="#e9e5db" opacity="0.85"/><polygon points="352.7,297.5 347.9,295.2 347.4,290.8 354.3,291.2 357.7,294.0" fill="#e9e5db" opacity="0.52"/><polygon points="458.8,195.6 458.0,185.5 470.1,183.8 466.8,194.7" fill="#f9f7f3" opacity="0.54"/><polygon points="404.8,256.4 397.2,256.6 394.1,254.6 397.6,248.6 407.7,250.2" fill="#e5e1d5" opacity="0.87"/><polygon points="515.4,250.0 517.9,242.8 529.1,247.7 526.8,253.0" fill="#e9e5db" opacity="0.71"/><polygon points="147.8,166.6 141.2,158.2 155.5,158.6" fill="#e2decf" opacity="0.81"/><polygon points="220.2,199.7 220.9,197.0 226.8,196.6 228.1,200.4 221.8,201.6" fill="#e5e1d5" opacity="0.81"/><polygon points="123.2,177.7 119.1,174.7 123.1,169.3 129.8,170.5 133.2,173.9" fill="#e5e1d5" opacity="0.86"/><polygon points="436.6,211.4 438.8,207.7 442.1,211.5" fill="#e6e2d7" opacity="0.51"/><polygon points="513.4,245.4 503.4,243.8 510.0,241.1" fill="#e9e5db" opacity="0.55"/><polygon points="394.8,246.9 391.7,249.7 382.7,245.0 392.0,242.3" fill="#f9f7f3" opacity="0.88"/><polygon points="34.1,255.3 27.9,248.9 36.5,245.1 44.5,252.7" fill="#ebe7de" opacity="0.70"/><polygon points="530.8,187.6 538.2,184.9 544.8,186.5 539.4,193.9" fill="#ebe7de" opacity="0.66"/><polygon points="66.3,161.0 64.7,154.5 75.6,154.1 76.4,160.2" fill="#ebe7de" opacity="0.83"/><polygon points="450.3,248.5 452.9,237.3 463.2,240.9 460.8,250.7" fill="#e9e5db" opacity="0.82"/><polygon points="504.6,254.3 501.9,255.8 497.5,253.1 503.6,252.4" fill="#ebe7de" opacity="0.58"/><polygon points="356.5,300.1 349.9,299.9 346.2,294.9 354.0,292.6" fill="#e6e2d7" opacity="0.61"/><polygon points="590.0,235.8 583.1,233.5 585.3,230.7 590.6,232.6" fill="#e5e1d5" opacity="0.63"/><polygon points="87.8,162.1 80.4,163.0 78.8,154.6 86.4,155.3" fill="#e5e1d5" opacity="0.63"/><polygon points="94.2,325.6 88.1,323.5 90.4,320.7 95.3,321.5" fill="#ebe7de" opacity="0.66"/><polygon points="490.7,138.9 485.1,138.8 479.7,136.0 480.7,130.0 487.4,131.2" fill="#e6e2d7" opacity="0.77"/><polygon points="577.9,294.5 579.0,287.4 585.7,285.2 590.8,288.9 586.7,293.9" fill="#e5e1d5" opacity="0.71"/><polygon points="512.9,211.0 512.1,205.3 524.4,204.1 524.7,209.2" fill="#e9e5db" opacity="0.90"/><polygon points="495.5,252.1 487.2,252.7 480.8,249.1 495.7,245.4" fill="#e5e1d5" opacity="0.79"/><polygon points="528.8,302.1 526.4,306.4 519.9,303.8 519.6,298.8 524.8,297.7" fill="#e5e1d5" opacity="0.85"/><polygon points="449.7,148.4 445.5,154.2 437.7,149.6 443.3,144.0" fill="#e6e2d7" opacity="0.78"/><polygon points="59.0,156.0 49.3,161.6 40.7,153.0 53.0,147.3" fill="#e6e2d7" opacity="0.88"/><polygon points="443.0,323.4 436.5,323.2 433.9,315.9 441.4,315.2 447.6,318.4" fill="#f9f7f3" opacity="0.77"/><polygon points="550.5,260.3 543.2,256.6 548.7,251.0 557.7,255.5" fill="#e5e1d5" opacity="0.89"/><polygon points="518.8,136.4 517.3,133.2 520.4,131.2 523.6,132.3 521.4,136.0" fill="#ebe7de" opacity="0.76"/><polygon points="30.2,343.0 27.3,337.4 30.6,335.6 35.5,335.8 34.5,339.4" fill="#e6e2d7" opacity="0.82"/><polygon points="452.3,138.9 444.0,141.4 439.4,137.2 438.8,131.5 449.3,129.1" fill="#e2decf" opacity="0.88"/><polygon points="543.1,357.9 533.4,358.9 534.8,351.9" fill="#f9f7f3" opacity="0.82"/><polygon points="350.1,141.2 349.3,134.4 359.0,136.7" fill="#e2decf" opacity="0.78"/><polygon points="583.7,281.7 574.4,282.1 577.0,276.8 583.9,275.1" fill="#e2decf" opacity="0.85"/><polygon points="89.7,110.7 76.2,111.6 76.1,105.9 87.1,99.0 92.0,105.4" fill="#e9e5db" opacity="0.62"/><polygon points="449.4,267.6 454.8,259.5 458.1,265.4" fill="#e2decf" opacity="0.54"/><polygon points="544.9,113.8 546.3,110.3 550.5,112.6 549.3,114.7" fill="#e6e2d7" opacity="0.78"/><polygon points="462.1,232.4 454.0,233.5 457.9,227.7" fill="#e5e1d5" opacity="0.80"/><polygon points="143.7,177.4 142.7,166.5 154.4,172.6" fill="#e6e2d7" opacity="0.84"/><polygon points="538.8,247.7 545.9,242.3 551.7,251.1" fill="#ebe7de" opacity="0.61"/><polygon points="200.0,321.2 196.4,318.1 199.3,316.7 202.4,319.4" fill="#f9f7f3" opacity="0.63"/><polygon points="41.9,279.9 37.2,273.5 43.5,272.2 46.3,273.0 45.2,279.0" fill="#e9e5db" opacity="0.76"/><polygon points="375.1,222.4 364.9,218.7 369.8,214.4 379.5,215.8" fill="#e2decf" opacity="0.83"/><polygon points="107.5,253.4 104.1,249.3 113.8,244.6 118.0,249.8 112.6,258.0" fill="#f9f7f3" opacity="0.69"/><polygon points="121.3,232.7 122.8,229.6 126.2,228.7 127.3,233.3 124.8,235.4" fill="#ebe7de" opacity="0.77"/><polygon points="579.3,311.6 576.8,306.0 585.3,302.4 588.5,310.2" fill="#e6e2d7" opacity="0.65"/><polygon points="566.0,146.4 555.9,143.6 562.8,139.0" fill="#e6e2d7" opacity="0.83"/><polygon points="496.5,314.4 490.6,318.8 483.6,314.4 482.9,308.6 494.4,310.3" fill="#e2decf" opacity="0.55"/><polygon points="-4.4,192.4 -2.3,188.0 4.0,187.8 6.9,193.5" fill="#e6e2d7" opacity="0.75"/><polygon points="457.3,216.1 450.1,218.1 447.6,215.2 451.9,211.3" fill="#e9e5db" opacity="0.79"/><polygon points="347.3,139.9 340.2,140.1 342.9,135.0" fill="#e9e5db" opacity="0.77"/><polygon points="472.3,185.6 462.5,184.8 459.9,179.2 470.6,178.2 474.9,181.9" fill="#e5e1d5" opacity="0.70"/><polygon points="201.0,326.6 195.1,317.8 207.6,316.4 208.6,321.5" fill="#e2decf" opacity="0.81"/><polygon points="14.5,265.2 22.9,260.8 33.1,259.1 34.1,266.7 23.0,269.2" fill="#f9f7f3" opacity="0.83"/><polygon points="310.5,155.3 307.7,151.8 311.2,151.0 315.7,153.6" fill="#e5e1d5" opacity="0.90"/><polygon points="419.1,221.9 407.7,221.6 413.1,213.7" fill="#e5e1d5" opacity="0.54"/><polygon points="483.4,196.2 480.7,192.2 488.1,190.4 488.7,195.0" fill="#e2decf" opacity="0.71"/><polygon points="496.2,137.9 491.6,135.9 495.4,131.2 501.6,136.5" fill="#e5e1d5" opacity="0.64"/><polygon points="489.2,319.9 491.0,312.4 507.4,318.9 497.1,326.1" fill="#ebe7de" opacity="0.84"/><polygon points="127.1,150.7 121.2,147.4 129.0,143.3 131.9,149.7" fill="#ebe7de" opacity="0.79"/><polygon points="522.5,148.2 516.7,152.1 510.6,143.3 519.7,142.3" fill="#e6e2d7" opacity="0.55"/><polygon points="293.5,276.4 293.7,266.0 304.6,268.2 307.1,273.5" fill="#e5e1d5" opacity="0.68"/><polygon points="273.9,301.1 269.6,300.6 272.8,295.1 275.6,295.7 278.3,298.5" fill="#e5e1d5" opacity="0.86"/><polygon points="73.8,236.9 74.0,232.2 83.5,230.2 82.4,239.2" fill="#ebe7de" opacity="0.57"/><polygon points="178.1,314.4 179.9,307.1 190.8,310.0 186.9,318.0" fill="#ebe7de" opacity="0.78"/><polygon points="137.6,306.5 133.2,301.2 145.0,300.5" fill="#f9f7f3" opacity="0.73"/><polygon points="141.9,257.3 139.5,252.3 148.7,251.4" fill="#f9f7f3" opacity="0.50"/><polygon points="476.1,261.6 471.7,257.9 477.5,258.5" fill="#e9e5db" opacity="0.89"/><polygon points="224.6,214.7 228.6,211.2 232.8,214.3 230.8,217.5" fill="#e2decf" opacity="0.73"/><polygon points="413.0,252.7 404.6,252.4 408.1,245.7 413.1,248.5" fill="#e5e1d5" opacity="0.57"/><polygon points="501.5,306.2 501.8,297.2 510.3,301.0" fill="#e2decf" opacity="0.56"/><polygon points="369.6,262.5 373.1,258.1 379.0,264.5" fill="#e9e5db" opacity="0.63"/><polygon points="414.9,197.0 419.9,195.5 422.9,198.1 419.0,200.0" fill="#ebe7de" opacity="0.72"/><polygon points="439.4,107.9 439.1,103.3 447.4,104.8 444.5,109.7" fill="#f9f7f3" opacity="0.70"/><polygon points="135.9,118.8 137.9,115.8 142.6,116.7 139.7,119.9" fill="#e5e1d5" opacity="0.86"/><polygon points="400.0,208.7 394.2,201.7 407.1,196.6 413.3,201.8" fill="#e6e2d7" opacity="0.59"/><polygon points="491.5,173.6 497.1,168.1 505.6,173.9" fill="#ebe7de" opacity="0.57"/><polygon points="96.3,304.3 99.9,302.0 103.8,303.2 100.5,306.5" fill="#e5e1d5" opacity="0.84"/><polygon points="544.6,208.8 552.0,199.2 561.3,205.5 560.2,211.4" fill="#e9e5db" opacity="0.69"/><polygon points="243.8,137.1 242.4,128.3 254.6,127.1 257.1,132.8" fill="#e9e5db" opacity="0.82"/><polygon points="439.0,346.0 420.3,340.7 428.6,331.0 440.6,336.6" fill="#e5e1d5" opacity="0.87"/><polygon points="39.5,358.5 36.3,360.1 32.8,356.9 37.4,355.0 40.1,354.1" fill="#e5e1d5" opacity="0.51"/><polygon points="446.6,151.1 434.7,144.6 446.7,142.9" fill="#e5e1d5" opacity="0.70"/><polygon points="331.1,118.5 333.3,110.9 338.8,113.4 336.9,119.0" fill="#f9f7f3" opacity="0.80"/><polygon points="339.9,288.0 332.7,285.6 329.3,280.8 338.6,280.0 343.2,280.9" fill="#e2decf" opacity="0.80"/><polygon points="220.8,181.8 205.6,175.1 222.5,172.5" fill="#e9e5db" opacity="0.54"/><polygon points="509.3,343.4 504.4,336.0 512.1,333.3 519.6,336.3" fill="#e9e5db" opacity="0.51"/><polygon points="514.0,185.5 516.5,180.1 527.6,178.1 530.1,186.9" fill="#f9f7f3" opacity="0.65"/><polygon points="64.6,164.8 50.7,168.4 55.2,161.5" fill="#f9f7f3" opacity="0.62"/><polygon points="517.0,220.1 511.4,225.7 502.8,225.3 503.9,215.2 509.8,215.5" fill="#e9e5db" opacity="0.56"/><polygon points="590.1,352.0 576.8,344.6 593.0,344.8" fill="#ebe7de" opacity="0.66"/><polygon points="56.4,225.0 64.8,218.0 70.4,221.2 67.6,229.4" fill="#f9f7f3" opacity="0.53"/><polygon points="118.6,222.9 105.7,222.3 120.0,214.9" fill="#e6e2d7" opacity="0.65"/><polygon points="529.9,115.7 518.9,115.9 517.0,110.0 525.9,109.6" fill="#f9f7f3" opacity="0.89"/><polygon points="426.2,299.0 414.7,302.4 414.8,293.9 426.2,292.4" fill="#ebe7de" opacity="0.63"/><polygon points="476.6,290.1 472.5,287.1 477.5,284.4 482.3,286.7" fill="#e6e2d7" opacity="0.87"/><polygon points="430.3,198.6 420.2,191.4 429.9,183.4 438.0,195.1" fill="#e6e2d7" opacity="0.68"/><polygon points="521.2,120.5 513.2,117.8 524.3,114.1" fill="#e5e1d5" opacity="0.88"/><polygon points="449.9,279.8 447.4,274.1 458.1,269.3 460.6,278.5" fill="#e2decf" opacity="0.63"/><polygon points="213.2,133.9 217.1,130.5 225.6,132.9 221.6,137.7" fill="#e5e1d5" opacity="0.83"/><polygon points="66.1,229.0 53.3,229.3 53.9,224.1 61.5,223.1" fill="#e5e1d5" opacity="0.87"/><polygon points="524.6,185.7 512.1,186.1 508.7,179.3 521.9,174.9 525.0,180.4" fill="#e9e5db" opacity="0.76"/><polygon points="2.8,221.7 5.6,219.1 8.6,222.2" fill="#e2decf" opacity="0.69"/><polygon points="204.4,314.1 198.3,319.5 188.4,316.2 190.3,311.3 195.9,310.5" fill="#ebe7de" opacity="0.56"/><polygon points="131.4,133.4 128.6,127.7 136.1,123.9 140.4,127.2 137.0,131.2" fill="#e9e5db" opacity="0.67"/><polygon points="22.5,207.3 21.0,203.9 25.3,202.0 27.3,206.0" fill="#ebe7de" opacity="0.82"/><polygon points="476.1,188.0 482.6,178.2 491.8,188.2" fill="#e9e5db" opacity="0.71"/><polygon points="65.7,141.0 60.4,137.2 63.6,133.8 71.7,138.0" fill="#e6e2d7" opacity="0.80"/><polygon points="61.6,244.6 66.4,241.6 66.4,245.9" fill="#e5e1d5" opacity="0.70"/><polygon points="164.1,352.4 161.1,348.7 166.3,347.5 169.0,350.3" fill="#e6e2d7" opacity="0.56"/><polygon points="254.3,257.8 246.6,256.3 252.1,253.3" fill="#e6e2d7" opacity="0.83"/><polygon points="500.8,255.5 506.3,245.6 520.0,246.3 516.7,255.8" fill="#ebe7de" opacity="0.72"/><polygon points="162.7,235.6 173.9,226.5 175.4,237.5" fill="#e2decf" opacity="0.52"/><polygon points="411.6,161.9 413.6,156.9 415.8,159.4" fill="#e5e1d5" opacity="0.67"/><polygon points="502.7,194.1 504.2,189.2 509.1,189.3 507.7,194.2" fill="#e9e5db" opacity="0.56"/><polygon points="475.3,116.0 463.3,112.2 462.8,104.2 473.9,106.7" fill="#ebe7de" opacity="0.54"/><polygon points="413.6,193.8 425.7,186.2 431.6,192.2" fill="#e5e1d5" opacity="0.62"/><polygon points="283.1,153.1 275.7,153.5 277.4,149.2" fill="#e9e5db" opacity="0.62"/><polygon points="302.1,150.0 294.2,148.5 299.2,143.9 304.9,146.9" fill="#e9e5db" opacity="0.62"/><polygon points="453.1,121.7 447.9,109.4 463.0,112.9" fill="#e6e2d7" opacity="0.62"/><polygon points="64.8,285.9 58.2,276.2 74.1,270.6 76.2,281.3" fill="#e9e5db" opacity="0.66"/><polygon points="582.0,194.8 578.3,188.3 585.1,186.6 590.4,195.7" fill="#ebe7de" opacity="0.62"/><polygon points="54.4,339.4 60.0,330.6 68.1,335.8 63.6,341.6" fill="#ebe7de" opacity="0.72"/><polygon points="400.3,284.3 393.1,278.6 404.0,273.2 411.0,281.1" fill="#e5e1d5" opacity="0.59"/><polygon points="55.2,185.8 53.1,183.7 53.6,180.3 59.2,182.5 59.3,185.7" fill="#f9f7f3" opacity="0.75"/><polygon points="37.0,134.3 28.8,131.2 31.8,128.6 39.3,131.0" fill="#ebe7de" opacity="0.73"/><polygon points="591.8,129.3 586.2,122.9 598.1,121.5" fill="#e6e2d7" opacity="0.62"/><polygon points="587.2,311.9 583.0,310.5 588.1,307.7 590.5,308.6" fill="#e9e5db" opacity="0.83"/><polygon points="139.7,279.2 131.2,279.8 131.3,275.9 141.3,273.5" fill="#f9f7f3" opacity="0.61"/><polygon points="171.8,157.7 174.7,152.7 186.3,156.1 179.7,161.4" fill="#e5e1d5" opacity="0.51"/><polygon points="534.5,239.4 534.9,237.1 539.7,236.7 542.1,238.8 538.3,241.7" fill="#e5e1d5" opacity="0.85"/><polygon points="292.6,134.6 294.0,131.0 300.7,132.7 298.2,134.4" fill="#e9e5db" opacity="0.71"/><polygon points="527.4,342.9 526.9,339.1 531.6,338.2 532.8,342.4" fill="#e2decf" opacity="0.63"/><polygon points="-0.3,323.6 -2.9,316.2 8.9,314.2 12.7,321.3" fill="#e9e5db" opacity="0.71"/><polygon points="-3.3,205.5 6.5,201.7 12.2,206.9 6.2,209.0" fill="#f9f7f3" opacity="0.85"/><polygon points="76.2,288.6 71.1,284.2 77.9,283.2" fill="#e2decf" opacity="0.89"/><polygon points="25.2,201.9 23.3,198.7 26.1,197.1 31.7,198.0 30.1,201.5" fill="#e5e1d5" opacity="0.65"/><polygon points="590.8,253.9 579.2,250.3 589.3,247.5" fill="#e6e2d7" opacity="0.67"/><polygon points="145.2,249.8 145.0,246.3 149.3,244.1 153.4,246.5 151.3,250.9" fill="#ebe7de" opacity="0.54"/><polygon points="417.7,233.7 417.8,230.9 422.5,228.9 424.7,232.7 421.2,235.8" fill="#e5e1d5" opacity="0.55"/><polygon points="150.2,152.6 152.6,145.9 157.8,147.2 157.9,153.9" fill="#e9e5db" opacity="0.75"/><polygon points="115.4,120.9 109.2,118.9 110.9,114.8 119.0,113.8 120.9,119.2" fill="#ebe7de" opacity="0.51"/><polygon points="454.2,347.4 446.0,348.1 441.6,340.7 451.5,339.2" fill="#e9e5db" opacity="0.54"/><polygon points="77.5,353.3 71.4,355.0 67.7,351.7 70.7,350.2" fill="#f9f7f3" opacity="0.56"/><polygon points="534.9,235.3 536.7,227.9 545.9,228.1 542.5,236.3" fill="#e9e5db" opacity="0.89"/><polygon points="518.6,310.9 520.7,302.7 532.9,304.3 526.2,315.3" fill="#ebe7de" opacity="0.53"/><polygon points="494.8,275.4 486.9,272.7 484.5,271.8 488.4,267.3 496.4,269.5" fill="#e9e5db" opacity="0.54"/><polygon points="16.1,275.0 6.8,271.8 10.9,268.1 19.2,268.5 21.1,271.1" fill="#e2decf" opacity="0.83"/><polygon points="106.9,313.7 106.8,310.1 108.4,308.9 113.2,308.4 112.6,312.3" fill="#e9e5db" opacity="0.66"/><polygon points="221.0,288.8 217.1,281.4 224.1,284.6" fill="#f9f7f3" opacity="0.64"/><polygon points="262.8,142.4 255.2,144.0 254.1,140.9 259.8,139.4" fill="#e5e1d5" opacity="0.89"/><polygon points="510.6,261.5 504.4,256.6 506.7,247.4 520.2,255.5" fill="#e2decf" opacity="0.54"/><polygon points="489.8,169.9 479.7,170.6 479.7,165.8 491.6,164.6" fill="#ebe7de" opacity="0.64"/><polygon points="534.5,197.4 536.7,193.3 549.9,194.0 547.7,199.0" fill="#e9e5db" opacity="0.68"/><polygon points="361.2,337.5 357.3,337.0 360.4,333.3" fill="#ebe7de" opacity="0.51"/><polygon points="526.9,229.8 525.2,229.3 524.7,225.4 528.7,226.7 531.4,227.9" fill="#e5e1d5" opacity="0.66"/><polygon points="568.0,338.2 560.6,336.5 557.5,331.0 567.4,328.2 575.5,332.1" fill="#e6e2d7" opacity="0.62"/><polygon points="222.1,293.9 216.5,283.8 223.6,280.4 236.1,288.5 232.1,291.9" fill="#f9f7f3" opacity="0.82"/><polygon points="373.4,249.0 366.5,253.2 360.2,252.0 358.9,246.7 368.9,243.5" fill="#e9e5db" opacity="0.70"/><polygon points="511.4,213.8 504.7,210.8 508.2,207.4 516.1,207.3" fill="#e9e5db" opacity="0.89"/><polygon points="546.3,126.0 542.5,126.1 542.6,120.9 549.2,121.2" fill="#e5e1d5" opacity="0.54"/><polygon points="20.0,117.4 22.9,109.2 33.1,113.1 31.4,122.5" fill="#ebe7de" opacity="0.87"/><polygon points="32.5,330.2 38.7,326.0 46.9,330.3 40.6,335.5" fill="#e2decf" opacity="0.65"/><polygon points="78.8,110.4 74.5,106.5 81.8,104.4" fill="#e9e5db" opacity="0.88"/><polygon points="547.3,306.2 531.8,311.2 533.1,302.5" fill="#f9f7f3" opacity="0.85"/><polygon points="99.7,324.0 97.8,317.9 106.5,318.5 106.5,324.7" fill="#e9e5db" opacity="0.70"/><polygon points="21.5,114.7 29.0,109.4 33.2,111.5 39.1,121.7 31.1,120.9" fill="#e9e5db" opacity="0.56"/><polygon points="497.2,124.0 490.8,118.3 498.4,112.4 506.3,112.9 510.9,116.7" fill="#e9e5db" opacity="0.66"/><polygon points="433.4,282.2 424.0,281.7 419.3,278.3 421.2,272.9 432.1,275.4" fill="#e9e5db" opacity="0.79"/><polygon points="499.9,135.1 493.0,134.5 492.6,131.5 498.9,129.8 501.7,131.2" fill="#e2decf" opacity="0.64"/><polygon points="449.7,357.8 435.0,357.5 439.4,347.8" fill="#ebe7de" opacity="0.82"/><polygon points="442.1,308.0 448.0,304.4 461.5,305.3 454.7,313.1" fill="#e2decf" opacity="0.84"/><polygon points="493.2,156.3 486.0,158.6 484.8,155.9 486.0,153.7 491.2,152.4" fill="#e9e5db" opacity="0.59"/><polygon points="545.7,199.9 535.8,196.1 542.6,193.1" fill="#e9e5db" opacity="0.65"/><polygon points="385.8,244.7 384.7,240.5 390.7,242.9" fill="#e2decf" opacity="0.59"/><polygon points="557.7,217.3 547.7,219.6 545.8,212.9 551.9,213.1" fill="#e9e5db" opacity="0.77"/><polygon points="38.3,255.3 35.2,253.6 35.8,250.6 41.0,249.2 41.8,253.9" fill="#e5e1d5" opacity="0.58"/><polygon points="547.6,158.2 535.1,162.5 534.4,154.0 541.8,150.8" fill="#ebe7de" opacity="0.82"/><polygon points="60.6,339.1 56.1,331.7 68.7,330.9 69.4,340.5" fill="#e9e5db" opacity="0.84"/><polygon points="78.7,337.7 74.6,330.1 87.1,326.3 92.6,333.1" fill="#e6e2d7" opacity="0.53"/><polygon points="59.5,273.4 48.1,270.2 57.5,264.5" fill="#e9e5db" opacity="0.81"/><polygon points="120.1,171.1 113.3,167.7 120.5,165.9" fill="#e6e2d7" opacity="0.60"/><polygon points="431.7,128.7 428.5,126.2 433.3,124.5" fill="#e9e5db" opacity="0.66"/><polygon points="520.8,202.9 523.7,196.7 533.0,194.3 531.6,203.8" fill="#e9e5db" opacity="0.62"/><polygon points="243.3,334.3 240.3,328.0 244.7,326.9 249.4,330.3 247.0,334.0" fill="#ebe7de" opacity="0.56"/><polygon points="443.5,133.5 430.3,133.5 429.9,128.6 443.1,128.6" fill="#e5e1d5" opacity="0.62"/><polygon points="261.6,103.7 252.5,110.2 244.5,107.9 242.2,102.1 251.6,100.9" fill="#e9e5db" opacity="0.69"/><polygon points="82.5,174.2 85.4,170.7 89.0,172.3 88.3,176.4" fill="#e5e1d5" opacity="0.81"/><polygon points="431.4,164.2 423.2,169.8 410.8,163.5 425.5,157.0" fill="#e9e5db" opacity="0.77"/><polygon points="507.3,193.9 494.7,200.1 488.2,194.6 486.0,189.0 498.8,185.6" fill="#e9e5db" opacity="0.81"/><polygon points="412.0,297.3 409.0,291.5 416.8,293.1" fill="#e5e1d5" opacity="0.84"/><polygon points="535.6,346.4 520.0,339.7 533.4,333.3" fill="#f9f7f3" opacity="0.53"/><polygon points="15.9,214.9 11.6,213.0 19.0,209.7" fill="#e5e1d5" opacity="0.57"/><polygon points="167.8,301.2 166.0,297.2 169.1,296.2 173.9,298.4 171.2,302.0" fill="#e2decf" opacity="0.51"/><polygon points="122.5,132.1 126.9,126.6 131.3,131.7 125.3,134.1" fill="#e6e2d7" opacity="0.56"/><polygon points="96.1,207.5 91.5,204.8 94.5,202.4 98.0,203.7" fill="#e2decf" opacity="0.60"/><polygon points="221.5,297.4 211.8,299.2 208.8,291.4 216.7,291.1" fill="#e9e5db" opacity="0.84"/><polygon points="316.1,167.8 305.8,171.1 302.6,166.7 309.5,158.1" fill="#e5e1d5" opacity="0.83"/><polygon points="509.3,233.7 504.5,233.1 502.7,229.2 507.8,227.6 512.4,229.4" fill="#e2decf" opacity="0.54"/><polygon points="532.5,156.9 528.4,153.3 530.5,151.8 535.0,153.6" fill="#e2decf" opacity="0.70"/><polygon points="456.6,258.2 450.5,259.3 447.2,253.4 455.4,253.6" fill="#e9e5db" opacity="0.83"/><polygon points="117.5,144.9 126.4,141.1 130.4,145.5 124.9,152.9" fill="#ebe7de" opacity="0.68"/><polygon points="141.3,329.6 144.5,325.8 148.4,327.8 147.7,330.8" fill="#e9e5db" opacity="0.88"/><polygon points="560.5,235.8 559.2,226.2 568.7,227.4 566.6,234.0" fill="#e9e5db" opacity="0.77"/><polygon points="99.9,298.1 89.9,299.2 92.0,294.2 96.6,294.6" fill="#e5e1d5" opacity="0.76"/><polygon points="562.3,288.1 565.8,278.3 571.7,287.3" fill="#e5e1d5" opacity="0.84"/><polygon points="455.8,123.4 452.2,115.9 467.4,117.2" fill="#e5e1d5" opacity="0.70"/><polygon points="9.1,108.2 10.7,104.2 17.7,105.4 18.9,108.8 14.2,111.3" fill="#e2decf" opacity="0.71"/><polygon points="527.0,271.5 520.0,268.8 521.3,262.9 530.0,264.2" fill="#ebe7de" opacity="0.50"/><polygon points="579.1,239.4 582.3,236.6 586.8,239.8 584.0,243.6" fill="#e5e1d5" opacity="0.87"/><polygon points="546.3,282.8 550.5,280.7 553.1,282.3 550.2,286.3" fill="#e5e1d5" opacity="0.79"/><polygon points="382.8,289.3 382.3,281.3 392.5,280.6 392.0,290.3" fill="#e6e2d7" opacity="0.66"/><polygon points="122.3,310.6 121.5,305.3 127.9,300.9 131.9,309.4" fill="#f9f7f3" opacity="0.78"/><polygon points="138.4,357.7 131.4,356.0 135.2,350.5 140.6,349.7 142.8,354.6" fill="#f9f7f3" opacity="0.66"/><polygon points="518.7,268.3 511.6,274.6 505.1,270.9 506.2,264.8 511.8,261.8" fill="#e5e1d5" opacity="0.77"/><polygon points="345.8,328.1 340.6,323.3 347.1,317.6 352.5,320.8 354.3,327.5" fill="#e9e5db" opacity="0.53"/><polygon points="543.0,331.7 535.7,324.1 545.9,318.6 555.4,322.3" fill="#ebe7de" opacity="0.80"/><polygon points="488.9,282.6 483.8,285.6 478.8,275.3 485.9,271.6 495.0,277.3" fill="#e9e5db" opacity="0.75"/><polygon points="90.7,124.9 85.5,130.1 74.4,127.2 85.8,120.6" fill="#e5e1d5" opacity="0.60"/><polygon points="452.1,353.6 447.1,353.2 448.8,350.6 452.9,351.5" fill="#e2decf" opacity="0.75"/><polygon points="486.0,212.9 481.7,215.7 473.5,212.2 482.6,208.7" fill="#e6e2d7" opacity="0.54"/><polygon points="115.1,187.2 118.6,184.6 122.6,185.7 119.5,188.7" fill="#e5e1d5" opacity="0.53"/><polygon points="106.9,275.9 111.1,273.0 116.3,274.0 114.4,279.6" fill="#ebe7de" opacity="0.62"/><polygon points="408.4,262.0 412.7,256.0 424.4,257.7 423.9,266.6" fill="#e9e5db" opacity="0.77"/><polygon points="542.4,349.0 543.7,342.5 553.6,348.8" fill="#e2decf" opacity="0.67"/><polygon points="579.5,274.8 569.1,275.9 567.9,270.2 577.3,270.3" fill="#e2decf" opacity="0.67"/><polygon points="428.6,175.1 432.5,169.7 439.0,173.0 436.7,179.1" fill="#e5e1d5" opacity="0.77"/><polygon points="415.7,135.0 398.7,132.0 413.7,126.8" fill="#ebe7de" opacity="0.51"/><polygon points="486.3,241.4 496.8,237.0 496.4,244.2" fill="#e2decf" opacity="0.59"/><polygon points="37.7,182.0 35.7,175.1 40.1,173.7 44.1,180.4" fill="#e5e1d5" opacity="0.73"/><polygon points="322.2,164.5 331.2,157.8 336.7,166.4" fill="#f9f7f3" opacity="0.74"/><polygon points="400.1,152.9 396.1,145.0 409.4,143.1 410.8,149.8" fill="#e6e2d7" opacity="0.55"/><polygon points="456.3,331.5 452.6,335.2 446.9,333.6 448.1,330.6 451.8,328.9" fill="#e5e1d5" opacity="0.52"/><polygon points="48.3,135.8 60.4,129.9 63.8,137.7" fill="#f9f7f3" opacity="0.65"/><polygon points="443.1,225.9 437.5,221.2 438.7,215.7 449.6,218.9" fill="#e9e5db" opacity="0.79"/><polygon points="20.2,318.2 23.3,313.1 32.6,312.8 36.2,320.3 29.5,322.2" fill="#ebe7de" opacity="0.64"/><polygon points="461.7,240.9 452.7,240.3 459.2,231.6" fill="#e6e2d7" opacity="0.75"/><polygon points="237.0,137.1 227.3,137.0 228.9,131.4 237.9,131.9" fill="#e2decf" opacity="0.53"/><polygon points="143.5,230.2 133.8,229.0 137.3,224.5 144.9,220.9 148.9,225.8" fill="#e6e2d7" opacity="0.78"/><polygon points="540.0,189.8 529.6,188.5 532.6,181.2 541.9,181.3" fill="#e2decf" opacity="0.82"/><polygon points="475.2,314.2 464.4,314.0 472.0,303.6 483.4,307.9" fill="#f9f7f3" opacity="0.51"/><polygon points="491.1,141.7 484.0,134.6 490.2,131.8 495.9,136.8" fill="#e2decf" opacity="0.79"/><polygon points="130.3,328.8 134.7,325.1 136.5,329.1" fill="#e5e1d5" opacity="0.81"/><polygon points="252.9,290.0 238.6,296.4 232.6,288.6 245.1,284.6" fill="#e5e1d5" opacity="0.85"/><polygon points="309.4,159.3 304.7,161.6 299.0,160.8 301.9,156.5 306.6,155.6" fill="#ebe7de" opacity="0.62"/><polygon points="20.5,118.4 13.2,113.2 24.1,108.3 27.7,113.3" fill="#e2decf" opacity="0.55"/><polygon points="477.3,171.4 470.7,168.9 476.0,164.4" fill="#e2decf" opacity="0.72"/><polygon points="461.7,188.4 458.7,185.0 461.8,181.3 469.5,181.0 470.4,187.5" fill="#e5e1d5" opacity="0.73"/><polygon points="460.6,197.6 448.1,188.6 462.3,187.2" fill="#ebe7de" opacity="0.51"/><polygon points="239.1,250.0 227.6,253.6 221.8,248.9 228.3,243.8 237.3,242.2" fill="#e9e5db" opacity="0.86"/><polygon points="542.0,176.5 531.8,181.1 528.9,170.5" fill="#e5e1d5" opacity="0.88"/><polygon points="7.4,287.3 10.2,276.8 20.2,287.4" fill="#e2decf" opacity="0.65"/><polygon points="502.0,135.1 497.9,135.2 500.2,130.2 503.6,131.7" fill="#f9f7f3" opacity="0.59"/><polygon points="419.5,200.7 410.3,197.4 414.3,188.6 421.0,190.9" fill="#f9f7f3" opacity="0.59"/><polygon points="423.5,331.2 419.9,329.5 421.3,325.0 427.0,326.4" fill="#e9e5db" opacity="0.51"/><polygon points="97.4,125.8 91.5,130.8 80.9,126.8 95.2,119.2" fill="#f9f7f3" opacity="0.76"/><polygon points="73.7,117.6 76.6,110.1 85.5,111.4 81.4,121.8" fill="#e9e5db" opacity="0.71"/><polygon points="361.9,157.3 366.4,153.4 374.8,154.9 367.4,160.1" fill="#e5e1d5" opacity="0.77"/><polygon points="523.7,307.5 524.5,304.2 528.9,304.1 529.2,307.9" fill="#e6e2d7" opacity="0.80"/><polygon points="246.2,262.1 232.2,257.1 247.3,249.3" fill="#e9e5db" opacity="0.85"/><polygon points="413.7,150.5 410.5,147.0 419.0,144.1" fill="#e2decf" opacity="0.88"/><polygon points="460.6,121.9 449.6,118.2 455.9,111.4 466.8,116.7" fill="#ebe7de" opacity="0.67"/><polygon points="7.7,266.3 4.7,258.9 14.8,257.9" fill="#e9e5db" opacity="0.78"/><polygon points="447.9,254.2 444.3,250.1 450.7,248.8" fill="#e2decf" opacity="0.80"/><polygon points="132.8,205.0 121.8,206.4 118.4,200.2 128.8,194.1" fill="#e2decf" opacity="0.53"/><polygon points="541.0,119.1 522.4,121.6 518.8,113.6 540.6,111.2" fill="#e2decf" opacity="0.66"/><polygon points="19.9,127.3 11.8,127.6 18.5,123.3" fill="#e2decf" opacity="0.70"/><polygon points="93.0,188.4 89.3,189.6 84.5,189.1 86.3,186.3 92.0,186.0" fill="#ebe7de" opacity="0.90"/><polygon points="535.6,120.2 528.3,117.7 534.7,114.4" fill="#e6e2d7" opacity="0.76"/><polygon points="596.4,350.9 592.7,356.6 586.2,352.9 590.3,349.1" fill="#f9f7f3" opacity="0.56"/><polygon points="76.8,144.9 73.6,140.2 82.0,140.6" fill="#e9e5db" opacity="0.75"/><polygon points="501.7,219.5 493.7,217.7 497.4,211.9 502.9,212.3 505.9,217.9" fill="#e2decf" opacity="0.74"/><polygon points="153.3,362.2 144.3,363.4 139.8,354.6 152.9,355.3" fill="#ebe7de" opacity="0.82"/><polygon points="584.2,334.2 579.4,336.4 572.1,330.4 579.5,327.1" fill="#ebe7de" opacity="0.88"/><polygon points="131.7,344.2 131.0,339.7 137.2,339.3 138.6,343.2 136.9,346.1" fill="#e6e2d7" opacity="0.76"/><polygon points="269.0,347.7 271.9,340.3 276.5,338.0 280.0,344.8 274.4,348.5" fill="#e9e5db" opacity="0.84"/><polygon points="467.9,145.9 467.7,142.2 474.9,143.3 472.4,146.5" fill="#e6e2d7" opacity="0.75"/><polygon points="110.1,179.0 101.7,177.7 102.0,173.5 112.5,174.2" fill="#e9e5db" opacity="0.85"/><polygon points="418.6,308.9 417.7,312.0 408.5,308.1 412.0,306.0 416.8,304.4" fill="#e2decf" opacity="0.64"/><polygon points="373.3,135.0 365.9,132.1 370.6,127.7 374.3,130.6" fill="#e5e1d5" opacity="0.73"/><polygon points="213.7,197.0 207.3,199.9 200.5,198.1 201.8,193.1 212.1,190.7" fill="#ebe7de" opacity="0.62"/><polygon points="421.0,132.3 413.3,132.2 414.2,124.9 421.9,127.6" fill="#e2decf" opacity="0.74"/><polygon points="170.1,278.5 170.7,268.2 185.5,269.1 185.3,276.7" fill="#ebe7de" opacity="0.75"/><polygon points="555.9,302.8 543.9,299.7 549.7,288.4" fill="#e6e2d7" opacity="0.89"/><polygon points="257.3,311.2 250.0,302.3 258.9,301.3 268.9,306.3" fill="#e9e5db" opacity="0.69"/><polygon points="249.8,312.4 237.9,306.8 253.0,298.7 260.4,307.8" fill="#e9e5db" opacity="0.56"/><polygon points="211.6,148.1 204.8,142.3 208.3,135.7 220.3,137.3" fill="#e5e1d5" opacity="0.56"/><polygon points="51.7,209.3 50.8,204.4 60.1,202.7 62.7,210.5" fill="#e2decf" opacity="0.75"/><polygon points="553.9,333.7 571.0,327.9 571.4,338.2" fill="#e9e5db" opacity="0.88"/><polygon points="577.6,320.2 567.6,318.2 568.1,311.4 578.1,311.8" fill="#e9e5db" opacity="0.54"/><polygon points="585.8,277.1 573.2,280.5 575.9,273.6" fill="#e5e1d5" opacity="0.88"/><polygon points="72.2,131.2 68.2,125.8 71.7,121.6 82.8,126.6 80.6,132.0" fill="#e6e2d7" opacity="0.65"/><polygon points="570.1,222.0 560.7,217.4 566.8,212.9 575.3,211.4 580.2,222.8" fill="#ebe7de" opacity="0.50"/><polygon points="584.9,241.2 579.2,237.6 589.2,232.7 591.8,237.6 593.1,241.0" fill="#f9f7f3" opacity="0.78"/><polygon points="544.9,304.0 549.0,300.3 558.3,299.7 558.9,305.2 549.2,307.3" fill="#e9e5db" opacity="0.64"/><polygon points="86.3,133.7 79.9,128.5 85.4,126.8 90.7,130.2" fill="#e9e5db" opacity="0.66"/><polygon points="547.6,157.5 536.0,150.5 545.9,145.9 555.4,152.0" fill="#e2decf" opacity="0.86"/><polygon points="246.9,125.6 234.9,125.0 242.1,117.3" fill="#e5e1d5" opacity="0.77"/><polygon points="3.8,224.7 -0.6,219.5 5.8,213.8 18.4,218.7" fill="#f9f7f3" opacity="0.77"/><polygon points="30.5,179.5 21.8,180.7 24.2,173.5 32.0,175.2" fill="#e9e5db" opacity="0.54"/><polygon points="438.9,310.2 436.6,306.1 440.5,302.7 445.6,306.3" fill="#e2decf" opacity="0.58"/><polygon points="436.6,146.2 425.3,152.9 422.9,143.2" fill="#e2decf" opacity="0.79"/><polygon points="338.7,269.1 334.6,265.0 338.6,261.8 346.1,262.3 348.0,266.0" fill="#e9e5db" opacity="0.83"/><polygon points="561.3,281.4 551.4,281.3 557.3,276.9" fill="#e2decf" opacity="0.86"/><polygon points="140.2,218.7 134.9,220.3 133.6,215.8 139.0,215.7" fill="#f9f7f3" opacity="0.86"/><polygon points="52.6,123.8 46.9,126.5 44.3,120.7 48.8,120.3" fill="#ebe7de" opacity="0.66"/><polygon points="222.9,362.4 204.4,364.5 207.9,351.8 218.8,355.1" fill="#e9e5db" opacity="0.90"/><polygon points="429.2,201.6 426.0,200.3 424.3,197.4 427.5,195.8 432.1,197.0" fill="#e5e1d5" opacity="0.72"/><polygon points="567.1,249.8 566.4,243.4 582.2,246.1 577.6,251.7" fill="#ebe7de" opacity="0.63"/><polygon points="506.8,111.6 500.1,106.7 510.1,101.8 514.3,104.7 516.6,111.7" fill="#e6e2d7" opacity="0.50"/><polygon points="426.2,228.5 421.8,228.9 423.4,225.4" fill="#e6e2d7" opacity="0.63"/><polygon points="560.6,132.1 555.0,132.4 553.0,126.1 561.7,123.7 564.5,126.2" fill="#e5e1d5" opacity="0.62"/><polygon points="548.2,184.0 555.8,176.3 560.4,186.7" fill="#f9f7f3" opacity="0.83"/><polygon points="435.6,201.5 438.2,198.0 441.5,198.8 445.7,202.4 439.9,203.8" fill="#e9e5db" opacity="0.63"/><polygon points="453.9,176.9 443.5,165.0 455.3,163.5 463.9,172.1" fill="#ebe7de" opacity="0.89"/><polygon points="416.5,281.8 409.4,273.7 418.7,271.8 428.1,279.6" fill="#e9e5db" opacity="0.70"/><polygon points="212.6,311.7 199.6,312.1 199.3,305.1" fill="#ebe7de" opacity="0.66"/><polygon points="566.2,199.7 564.8,195.7 570.5,194.0 571.7,196.4 571.5,199.9" fill="#f9f7f3" opacity="0.87"/><polygon points="471.6,345.2 471.2,334.2 483.2,336.8" fill="#e5e1d5" opacity="0.88"/><polygon points="379.2,288.2 374.5,290.6 369.3,287.1 371.3,282.4 378.5,282.2" fill="#e5e1d5" opacity="0.66"/><polygon points="48.4,117.7 49.5,113.3 61.2,112.3 60.3,120.8" fill="#ebe7de" opacity="0.88"/><polygon points="241.7,116.3 243.8,110.7 249.1,114.9" fill="#e6e2d7" opacity="0.60"/><polygon points="483.8,309.9 476.7,310.3 474.6,304.0 479.7,302.7 488.7,308.0" fill="#e6e2d7" opacity="0.85"/><polygon points="113.8,323.4 105.4,324.3 107.0,319.5 113.6,321.2" fill="#e6e2d7" opacity="0.71"/><polygon points="427.8,309.4 422.0,312.2 414.1,308.9 424.4,305.3" fill="#e5e1d5" opacity="0.62"/><polygon points="571.6,169.5 558.8,172.3 564.4,162.8" fill="#f9f7f3" opacity="0.58"/><polygon points="545.7,158.9 540.0,155.4 546.2,153.7" fill="#ebe7de" opacity="0.75"/><polygon points="33.9,220.5 38.5,212.7 44.6,216.0 45.0,220.4" fill="#e6e2d7" opacity="0.71"/><polygon points="175.0,124.8 168.8,122.3 175.2,117.2 178.7,120.6" fill="#e5e1d5" opacity="0.73"/><polygon points="444.0,314.6 442.1,305.9 451.3,305.0 459.4,307.8 452.5,315.5" fill="#e5e1d5" opacity="0.50"/><polygon points="568.9,308.8 559.4,310.6 558.6,306.4 567.1,303.3" fill="#e5e1d5" opacity="0.75"/><polygon points="103.0,252.5 109.9,244.6 115.5,254.9" fill="#f9f7f3" opacity="0.88"/><polygon points="280.2,165.1 283.5,160.5 289.6,164.5" fill="#e9e5db" opacity="0.67"/><polygon points="146.7,179.5 146.3,177.0 147.7,173.7 154.1,174.6 152.8,178.1" fill="#e9e5db" opacity="0.63"/><polygon points="14.9,273.7 16.7,265.3 25.4,265.1 24.0,270.9" fill="#ebe7de" opacity="0.60"/><polygon points="501.7,312.8 510.5,302.5 517.6,308.8 511.8,317.6" fill="#e6e2d7" opacity="0.72"/><polygon points="442.5,163.8 440.9,160.9 446.5,159.4 447.2,163.7" fill="#e5e1d5" opacity="0.86"/><polygon points="120.3,243.2 116.6,243.1 114.7,239.5 116.7,238.0 122.6,240.1" fill="#e6e2d7" opacity="0.90"/><polygon points="506.3,313.8 501.9,305.6 515.5,304.5 514.1,312.1" fill="#e9e5db" opacity="0.58"/><polygon points="540.4,281.5 541.4,273.3 548.5,269.5 552.7,278.8" fill="#e6e2d7" opacity="0.64"/><polygon points="71.5,256.8 63.4,254.7 66.8,251.6" fill="#e9e5db" opacity="0.57"/><polygon points="200.6,174.3 194.3,170.6 202.4,168.1 208.9,170.0" fill="#e6e2d7" opacity="0.71"/><polygon points="197.9,299.0 195.2,292.7 202.2,289.7 205.2,293.5 203.9,296.2" fill="#f9f7f3" opacity="0.76"/><polygon points="23.0,191.6 24.6,185.4 30.8,187.9" fill="#f9f7f3" opacity="0.55"/><polygon points="248.0,344.8 246.4,338.4 255.6,337.8 262.9,341.3" fill="#e2decf" opacity="0.83"/><polygon points="463.8,186.4 450.4,185.7 454.5,173.4 464.9,176.7" fill="#e9e5db" opacity="0.63"/><polygon points="85.5,293.3 91.0,281.9 99.9,287.6" fill="#e6e2d7" opacity="0.89"/><polygon points="29.0,293.9 23.5,295.0 20.3,291.4 23.2,288.9" fill="#ebe7de" opacity="0.67"/><polygon points="576.5,344.7 570.5,340.7 578.8,339.0" fill="#e9e5db" opacity="0.58"/><polygon points="272.9,323.4 271.9,317.0 278.7,317.6 282.8,323.1 276.7,324.4" fill="#e5e1d5" opacity="0.60"/><polygon points="426.8,153.9 426.8,148.3 433.2,148.3 435.9,151.1 431.3,153.7" fill="#f9f7f3" opacity="0.51"/><polygon points="22.7,323.4 18.2,320.0 23.0,315.0 28.7,320.1" fill="#f9f7f3" opacity="0.84"/><polygon points="327.7,160.8 310.9,166.4 309.5,154.5" fill="#e9e5db" opacity="0.67"/><polygon points="152.0,173.1 144.6,170.8 152.2,162.6 161.7,164.0" fill="#e9e5db" opacity="0.69"/><polygon points="34.6,316.2 21.9,318.9 23.4,310.4 35.4,312.2" fill="#e9e5db" opacity="0.51"/><polygon points="450.4,266.7 445.1,257.1 450.3,255.1 465.2,258.2 460.3,262.7" fill="#e5e1d5" opacity="0.74"/><polygon points="123.1,291.6 116.8,287.8 123.1,284.4" fill="#e9e5db" opacity="0.53"/><polygon points="302.0,193.6 295.4,195.6 292.2,193.1 295.7,190.5" fill="#f9f7f3" opacity="0.53"/><polygon points="13.3,335.9 13.9,329.4 18.4,326.8 26.4,333.1 25.8,337.5" fill="#f9f7f3" opacity="0.75"/><polygon points="74.2,283.4 70.3,286.6 67.2,283.7 68.8,281.3 72.9,281.8" fill="#f9f7f3" opacity="0.75"/><polygon points="555.9,293.8 552.5,290.6 557.3,287.8 560.3,291.5" fill="#e9e5db" opacity="0.54"/><polygon points="3.1,166.7 0.0,163.7 8.7,163.0" fill="#ebe7de" opacity="0.90"/><polygon points="229.6,271.2 227.2,264.9 239.2,269.8" fill="#e5e1d5" opacity="0.66"/><polygon points="573.8,113.6 569.2,109.3 572.3,106.3 576.8,109.2" fill="#ebe7de" opacity="0.76"/><polygon points="506.0,125.7 503.4,120.3 505.8,119.3 511.4,122.3 508.9,124.5" fill="#e9e5db" opacity="0.56"/><polygon points="414.7,235.3 412.8,228.1 420.3,224.4 426.0,231.8" fill="#e5e1d5" opacity="0.54"/><polygon points="461.3,145.9 463.1,143.2 473.3,141.8 476.0,146.5 469.5,151.8" fill="#e6e2d7" opacity="0.56"/><polygon points="88.6,322.3 89.8,313.7 101.0,313.5 100.1,323.6" fill="#e5e1d5" opacity="0.70"/><polygon points="36.8,186.9 27.7,188.0 23.4,182.0 33.5,182.5" fill="#e9e5db" opacity="0.80"/><polygon points="451.6,136.1 453.8,131.9 456.6,130.8 459.8,133.9 455.5,137.5" fill="#e9e5db" opacity="0.72"/><polygon points="489.2,121.7 488.6,117.1 494.2,115.6 498.0,119.1 496.2,124.2" fill="#e2decf" opacity="0.62"/><polygon points="217.4,358.8 200.6,357.3 209.3,351.6" fill="#e2decf" opacity="0.50"/><polygon points="69.8,207.5 66.3,206.2 66.3,202.3 70.5,202.0 74.7,205.1" fill="#e2decf" opacity="0.73"/><polygon points="537.7,324.2 538.7,316.0 551.7,318.6 551.4,325.7" fill="#ebe7de" opacity="0.59"/><polygon points="483.2,316.1 473.2,312.0 479.2,307.1 490.2,312.3" fill="#e5e1d5" opacity="0.53"/><polygon points="120.9,360.7 114.6,358.8 114.3,350.8 124.5,354.2" fill="#e9e5db" opacity="0.82"/><polygon points="503.6,357.3 510.1,352.1 522.7,356.5 515.6,364.2" fill="#f9f7f3" opacity="0.52"/><polygon points="160.9,216.1 168.4,208.7 174.6,213.0" fill="#e6e2d7" opacity="0.68"/><polygon points="514.2,359.5 513.7,352.3 522.6,351.9 523.3,359.7" fill="#e6e2d7" opacity="0.52"/><polygon points="478.9,298.0 481.1,290.2 492.7,299.1" fill="#e5e1d5" opacity="0.69"/><polygon points="149.8,301.2 142.2,298.0 145.5,292.0 154.3,295.7" fill="#ebe7de" opacity="0.73"/><polygon points="504.5,159.7 497.4,157.2 498.0,153.9 506.9,153.3" fill="#e5e1d5" opacity="0.80"/><polygon points="233.5,165.7 226.2,165.2 234.1,157.1 238.7,160.4" fill="#ebe7de" opacity="0.63"/><polygon points="381.8,127.1 377.0,123.6 383.7,123.2" fill="#f9f7f3" opacity="0.62"/><polygon points="584.2,123.1 584.7,119.6 591.3,120.5 592.7,124.4 589.2,125.0" fill="#ebe7de" opacity="0.54"/><polygon points="202.9,119.0 208.2,113.7 212.8,117.7 208.6,122.9" fill="#e5e1d5" opacity="0.86"/><polygon points="45.7,196.5 45.3,193.6 50.0,195.4" fill="#e9e5db" opacity="0.63"/><polygon points="347.2,118.5 342.5,116.4 346.1,113.1 350.6,116.1" fill="#e6e2d7" opacity="0.85"/><polygon points="139.9,220.7 142.6,217.9 149.4,218.0 145.9,224.1" fill="#ebe7de" opacity="0.86"/><polygon points="305.8,284.6 300.8,285.3 294.4,280.3 300.0,274.3 311.0,277.1" fill="#e5e1d5" opacity="0.69"/><polygon points="424.3,209.6 415.7,209.5 420.3,204.9" fill="#e9e5db" opacity="0.82"/><polygon points="498.3,284.3 480.7,289.6 484.8,278.6" fill="#e9e5db" opacity="0.68"/><polygon points="512.4,228.7 503.0,231.4 507.0,223.4" fill="#e9e5db" opacity="0.73"/><polygon points="281.4,296.9 276.1,293.2 282.3,290.9 288.0,294.8" fill="#e6e2d7" opacity="0.75"/><polygon points="149.4,338.2 145.3,336.0 148.9,333.7 155.0,337.1" fill="#e9e5db" opacity="0.70"/><polygon points="474.9,146.8 481.4,143.9 482.3,148.8" fill="#e9e5db" opacity="0.89"/><polygon points="453.8,158.0 449.3,152.1 453.6,146.2 463.7,153.0" fill="#e5e1d5" opacity="0.87"/><polygon points="35.7,152.7 24.8,149.4 28.9,144.4 40.7,144.3" fill="#e9e5db" opacity="0.78"/><polygon points="58.4,327.5 60.8,322.2 71.0,321.9 69.5,331.3" fill="#f9f7f3" opacity="0.64"/><polygon points="534.3,346.8 533.7,341.4 541.2,341.9 543.0,345.2 538.2,349.6" fill="#e2decf" opacity="0.89"/><polygon points="434.5,142.8 435.1,137.4 441.7,138.5 444.1,142.2" fill="#e6e2d7" opacity="0.53"/><polyline points="0.0,224.0 34.0,219.0 64.0,216.0 94.0,224.0 124.0,224.0 154.0,222.0 184.0,207.0 209.0,190.0 224.0,177.0 244.0,172.0 274.0,172.0 294.0,177.0 324.0,184.0 354.0,182.0 394.0,171.3 409.7,178.3 439.4,168.7 477.8,167.8 498.7,172.2 516.2,171.3 533.6,180.9 568.5,183.6 594.0,173.0" fill="none" stroke="#d5d6d6" stroke-width="1.4" stroke-linejoin="round"/><polyline points="209.0,190.0 214.0,207.0 199.0,232.0 184.0,252.0 154.0,267.0 134.0,272.0 114.0,292.0 104.0,312.0 64.0,327.0 34.0,337.0 0.0,342.0" fill="none" stroke="#d5d6d6" stroke-width="1.4" stroke-linejoin="round"/><polyline points="154.0,267.0 194.0,265.0 193.0,292.0 199.0,322.0 214.0,342.0 224.0,359.0" fill="none" stroke="#d5d6d6" stroke-width="1.4" stroke-linejoin="round"/><polyline points="294.0,177.0 304.0,192.0 299.0,212.0 274.0,217.0 244.0,222.0 214.0,207.0" fill="none" stroke="#d5d6d6" stroke-width="1.4" stroke-linejoin="round"/><polyline points="324.0,184.0 334.0,202.0 364.0,217.0 404.0,222.0 434.0,237.0 459.0,267.0 474.0,292.0 504.0,304.0 544.0,307.0 574.0,317.0 592.0,327.0" fill="none" stroke="#d5d6d6" stroke-width="1.4" stroke-linejoin="round"/><polyline points="504.0,304.0 489.0,322.0 459.0,342.0 439.0,359.0" fill="none" stroke="#d5d6d6" stroke-width="1.4" stroke-linejoin="round"/><polyline points="244.0,172.0 249.0,192.0 264.0,207.0 284.0,202.0 304.0,192.0" fill="none" stroke="#d5d6d6" stroke-width="1.4" stroke-linejoin="round"/><polyline points="354.0,182.0 369.0,197.0 384.0,212.0 404.0,222.0" fill="none" stroke="#d5d6d6" stroke-width="1.4" stroke-linejoin="round"/><polyline points="274.0,172.0 269.0,192.0 264.0,207.0" fill="none" stroke="#d5d6d6" stroke-width="1.4" stroke-linejoin="round"/><polyline points="314.0,172.0 319.0,197.0 334.0,202.0" fill="none" stroke="#d5d6d6" stroke-width="1.4" stroke-linejoin="round"/><polyline points="216.4,176.8 225.2,173.7 244.0,172.1 266.9,172.6 283.6,174.7 298.2,176.8 319.0,177.8 339.8,176.8 360.7,174.7 394.0,170.5" fill="none" stroke="#d5d6d6" stroke-width="1.4" stroke-linejoin="round"/><polyline points="204.4,190.3 221.1,186.2 244.0,194.5 258.6,199.7 283.6,194.5 298.2,190.3 308.6,193.5 329.4,190.3 350.2,182.0 371.1,175.8 391.9,173.7" fill="none" stroke="#d5d6d6" stroke-width="1.4" stroke-linejoin="round"/><polyline points="258.6,199.7 252.3,211.2 240.9,222.0" fill="none" stroke="#d5d6d6" stroke-width="1.4" stroke-linejoin="round"/><polyline points="308.6,193.5 309.6,204.9 298.2,211.2 287.8,222.0" fill="none" stroke="#d5d6d6" stroke-width="1.4" stroke-linejoin="round"/><polyline points="329.4,190.3 339.8,198.7 354.4,204.9 360.7,222.0" fill="none" stroke="#d5d6d6" stroke-width="1.4" stroke-linejoin="round"/><polyline points="282.5,174.7 281.5,190.3 266.9,198.7" fill="none" stroke="#d5d6d6" stroke-width="1.4" stroke-linejoin="round"/><polyline points="321.1,166.4 320.6,178.9 323.2,190.3" fill="none" stroke="#d5d6d6" stroke-width="1.4" stroke-linejoin="round"/><polyline points="341.9,163.2 343.0,176.8" fill="none" stroke="#d5d6d6" stroke-width="1.4" stroke-linejoin="round"/><polyline points="353.4,169.5 354.4,182.0" fill="none" stroke="#d5d6d6" stroke-width="1.4" stroke-linejoin="round"/><polyline points="244.0,172.1 246.1,182.0 244.0,194.5" fill="none" stroke="#d5d6d6" stroke-width="1.4" stroke-linejoin="round"/><polyline points="266.9,172.6 269.0,184.1 283.6,194.5" fill="none" stroke="#d5d6d6" stroke-width="1.4" stroke-linejoin="round"/><polyline points="0.0,274.0 34.0,268.0 74.0,275.0 114.0,274.0 129.0,277.0 134.0,262.0 159.0,260.0 164.0,244.0 184.0,224.0 204.0,212.0" fill="none" stroke="#c2cbd0" stroke-width="0.8" stroke-linejoin="round"/><polyline points="129.0,277.0 144.0,292.0 154.0,312.0 129.0,327.0 134.0,342.0 126.0,359.0" fill="none" stroke="#c2cbd0" stroke-width="0.8" stroke-linejoin="round"/><polyline points="374.0,202.0 369.0,227.0 379.0,252.0 404.0,267.0 399.0,292.0 409.0,317.0 394.0,342.0 382.0,359.0" fill="none" stroke="#c2cbd0" stroke-width="0.8" stroke-linejoin="round"/><polyline points="523.1,120.7 522.3,136.4 507.4,150.4 491.7,164.4 476.0,171.3 474.3,181.8 463.8,194.0 458.6,199.3 442.0,202.8 446.4,216.7 453.3,232.4 465.6,241.1 476.0,256.9 505.7,263.0 537.1,260.3 570.3,256.9 594.0,261.2" fill="none" stroke="#c2cbd0" stroke-width="0.8" stroke-linejoin="round"/><polygon points="371.0,284.0 382.0,274.0 394.0,267.0 408.0,260.0 404.0,266.0 392.0,274.0 382.0,282.0" fill="#eef4f7" stroke="#6f8da0" stroke-width="0.9"/><polygon points="514.0,297.0 529.0,293.0 540.0,291.0 528.0,297.0 516.0,299.0" fill="#eef4f7" stroke="#6f8da0" stroke-width="0.9"/><polygon points="356.0,207.0 364.0,200.0 372.0,205.0 374.0,210.0 369.0,204.0 362.0,206.0" fill="#eef4f7" stroke="#6f8da0" stroke-width="0.9"/><polygon points="543.0,194.0 547.0,199.0 550.0,209.0 547.0,205.0 544.0,200.0" fill="#eef4f7" stroke="#6f8da0" stroke-width="0.9"/><polygon points="76.0,241.0 80.0,238.0 81.0,244.0" fill="#eef4f7" stroke="#6f8da0" stroke-width="0.9"/><polygon points="139.0,296.0 142.0,293.0 146.0,300.0" fill="#eef4f7" stroke="#6f8da0" stroke-width="0.9"/><polygon points="434.0,325.0 441.0,327.0 444.0,331.0 438.0,328.0" fill="#eef4f7" stroke="#6f8da0" stroke-width="0.9"/><polygon points="0.0,302.0 10.0,304.0 4.0,307.0" fill="#eef4f7" stroke="#6f8da0" stroke-width="0.9"/></g><polyline points="0.2,227.0 12.6,224.5 25.1,220.4 41.7,217.3 60.3,211.1 76.9,206.3 88.3,202.8 97.6,203.8 102.8,206.9 103.8,212.1 106.9,215.8 114.2,217.9 122.5,219.3 139.0,218.3 151.5,216.2 161.8,211.1 172.2,203.8 182.6,197.6 192.9,191.4 201.2,186.8 202.3,187.7 211.7,177.8 216.4,168.5 214.8,165.1 221.1,162.2 228.4,156.0 229.9,151.3 244.0,148.1 259.1,146.1 266.9,151.8 274.2,156.5 272.6,161.2 276.3,167.4 284.6,171.1 294.0,171.6 304.4,169.0 312.8,163.2 316.9,156.0 313.8,149.2 319.0,148.1 329.4,153.4 350.2,159.1 371.1,162.7 384.6,162.2 388.8,158.0 401.7,150.5 426.6,140.2 441.1,130.8 442.2,126.7 455.6,121.5 474.3,116.3 486.7,112.8 492.9,114.3 493.9,117.4 505.4,120.5 521.9,119.4 540.6,123.0 553.0,118.0 563.4,122.1 580.0,118.8 592.0,118.4" fill="none" stroke="#8aa3b1" stroke-width="1"/><text x="224.5" y="170.3" font-family="Liberation Mono, monospace" font-size="10.5" letter-spacing="1.5" fill="#333">Alger</text><circle cx="272.0999999999999" cy="165.89999999999998" r="3.6" fill="#fff" stroke="#222" stroke-width="0.9"/><circle cx="272.0999999999999" cy="165.89999999999998" r="2" fill="#000"/><line x1="285.70000000000005" y1="171.3" x2="306" y2="185" stroke="#d9441e" stroke-width="1.5"/><g transform="translate(194,132) scale(0.10417)"><path d="M1198 576 L1212 520 C1222 498 1250 498 1262 522 C1272 540 1276 560 1277 576 Z" fill="#fbad41"/><path d="M988 576 C990 540 1015 512 1062 505 C1072 465 1105 438 1142 438 C1185 438 1214 472 1214 505 C1214 525 1205 545 1192 576 Z" fill="#f6821f"/><rect x="1065" y="540" width="125" height="8" fill="#fbbf8a"/><path d="M1180 548 L1210 530 L1200 548 Z" fill="#fde3c8"/></g><path d="M285.9000000000001,171.60000000000002 C281.4000000000001,164.10000000000002 276.9000000000001,161.10000000000002 276.9000000000001,156.60000000000002 A9 9 0 0 1 294.9000000000001,156.60000000000002 C294.9000000000001,161.10000000000002 290.4000000000001,164.10000000000002 285.9000000000001,171.60000000000002 Z" fill="#b10d02"/><circle cx="285.9000000000001" cy="157.3" r="3.200" fill="#fff"/></svg><div class="a" style="left:1841px;top:139px;width:26px;height:52px;background:#f8f8f8;border-radius:3px;box-shadow:0 0 0 2px rgba(0,0,0,0.1),0 1px 3px rgba(0,0,0,0.15)"></div><div class="a" style="left:1841px;top:164px;width:26px;height:1px;background:#dddddd"></div><div class="a" style="left:1850px;top:150.8px;width:8px;height:2.3px;background:#000"></div><div class="a" style="left:1852.85px;top:148px;width:2.3px;height:8px;background:#000"></div><div class="a" style="left:1850px;top:176.7px;width:8px;height:2.3px;background:#000"></div><svg style="left:1845px;top:455px" width="22" height="22" viewBox="0 0 22 22"><circle cx="11" cy="11" r="11" fill="#fff"/><circle cx="11" cy="11" r="6.500" fill="#000"/><rect x="10.100" y="9.800" width="1.800" height="4.600" fill="#fff"/><circle cx="11" cy="7.800" r="1.100" fill="#fff"/></svg><svg style="left:1290px;top:456px" width="95" height="30" viewBox="1290 456 95 30"><circle cx="1303.5" cy="470.5" r="10.1" fill="#fff" stroke="#8a8681" stroke-opacity="0.75" stroke-width="1.1"/><path d="M1298.6 475.4 C1297.6 470 1299.5 465.6 1304 465.2 C1308.2 465 1310.3 468.4 1309.3 471.6 C1308.3 474.6 1304 475.8 1298.6 475.4 Z" fill="#a19d98"/><path d="M1305 467.6 L1305.6 469 L1307 469.6 L1305.6 470.2 L1305 471.600 L1304.4 470.2 L1303 469.6 L1304.4 469 Z" fill="#fff"/><text x="1316.200" y="474.9" font-family="Liberation Sans, sans-serif" font-weight="bold" font-size="14.5" fill="#fff" stroke="#8a8681" stroke-opacity="0.8" stroke-width="2.2" stroke-linejoin="round" paint-order="stroke" letter-spacing="1.05">mapbox</text></svg><svg style="left:1287px;top:501px" width="14" height="14" viewBox="0 0 14 14"><path d="M7 3.500V7M2.300 10V7H11.700V10" fill="none" stroke="#222" stroke-width="1.100"/><circle cx="7" cy="2.200" r="1.700" fill="#222"/><circle cx="2.300" cy="11.300" r="1.400" fill="none" stroke="#222" stroke-width="1"/><circle cx="11.700" cy="11.300" r="1.400" fill="none" stroke="#222" stroke-width="1"/></svg><div class="a" style="left:1309.78px;top:502px;font-size:13px;">Connected via IPv4</div><svg style="left:1287px;top:526px" width="14" height="12.4" viewBox="0 0 14 12.4"><path d="M0.6 5.1V3.6C0.6 1.6 2.2 0.6 4 0.6H10C11.8 0.600 13.4 1.6 13.4 3.600V5.100Z" fill="none" stroke="#222" stroke-width="1.2"/><path d="M1 3.2H13" stroke="#222" stroke-width="1"/><rect x="0.6" y="5.1" width="12.8" height="2.9" rx="1.2" fill="none" stroke="#222" stroke-width="1.2"/><rect x="0.6" y="8.6" width="12.8" height="3.2" rx="1.4" fill="none" stroke="#222" stroke-width="1.2"/></svg><div class="a" style="left:1309.77px;top:526px;font-size:13px;transform:scaleX(1.0070);transform-origin:0 0;">Server location: Algiers</div><svg style="left:1288px;top:549px" width="12" height="15" viewBox="0 0 12 15"><path d="M6 14.200C3.500 10.800 0.800 8.300 0.800 5.600A5.200 5.200 0 0 1 11.200 5.600C11.200 8.300 8.500 10.800 6 14.200Z" fill="none" stroke="#222" stroke-width="1.100"/><circle cx="6" cy="5.600" r="1.700" fill="none" stroke="#222" stroke-width="1"/></svg><div class="a" style="left:1310.15px;top:550px;font-size:13px;">Your network: Algerie Telecom (<a>AS36947</a>)</div><svg style="left:1287px;top:574.6px" width="14" height="12" viewBox="0 0 14 12"><rect x="0.600" y="0.600" width="12.800" height="10.800" rx="0.800" fill="none" stroke="#222" stroke-width="1.200"/><path d="M0.600 3.600H13.400" stroke="#222" stroke-width="1.200"/></svg><div class="a" style="left:1310.15px;top:574px;font-size:13px;">Your IP address: <a>105.101.245.185</a></div><div class="panel" style="left:16px;top:685px;width:610px;height:113px;border-radius:6px"></div><div class="a" style="left:33.46px;top:695px;font-size:16px;transform:scaleX(0.9922);transform-origin:0 0;">100kB download test</div><div class="a" style="left:185.88px;top:696px;font-size:14px;transform:scaleX(0.9384);transform-origin:0 0;">(10/10)</div><svg style="left:595.9px;top:700.8px" width="12.2" height="6.4" viewBox="0 0 12.2 6.4"><path d="M0 0H12.2L6.1 6.4Z" fill="#4a4a4a"/></svg><div class="a" style="left:38.41px;top:731px;font-size:12.5px;transform:scaleX(1.0522);transform-origin:0 0;color:#444">bps</div><svg style="left:0;top:685px" width="1920" height="113" viewBox="0 685 1920 113"><rect x="134.4" y="724.2" width="1" height="26.3" fill="#e6e6e6"/><rect x="204.3" y="724.2" width="1" height="26.3" fill="#e6e6e6"/><rect x="274.20000000000005" y="724.2" width="1" height="26.3" fill="#e6e6e6"/><rect x="344.1" y="724.2" width="1" height="26.3" fill="#e6e6e6"/><rect x="414.0" y="724.2" width="1" height="26.3" fill="#e6e6e6"/><rect x="483.90000000000003" y="724.2" width="1" height="26.3" fill="#e6e6e6"/><rect x="553.8000000000001" y="724.2" width="1" height="26.3" fill="#e6e6e6"/><path d="M501 736.1H504M504 733.5V738.7" stroke="#f6821f" stroke-width="1" fill="none"/><rect x="486.7" y="730.3000000000001" width="14.300000000000011" height="11.6" fill="#f6821f" fill-opacity="0.45" stroke="#f6821f" stroke-width="1" rx="0.8"/><path d="M491.7 730.3000000000001V741.9" stroke="#f6821f" stroke-width="1"/><path d="M458.5 730.9000000000001V741.9" stroke="#f6821f" stroke-width="1" stroke-dasharray="2 1.3"/><circle cx="278.3" cy="746.20" r="2.2" fill="#f6821f"/><circle cx="345.5" cy="746.20" r="2.2" fill="#f6821f"/><circle cx="486.5" cy="745.83" r="2.2" fill="#f6821f"/><circle cx="488.5" cy="746.26" r="2.2" fill="#f6821f"/><circle cx="490.5" cy="746.02" r="2.2" fill="#f6821f"/><circle cx="492.5" cy="746.35" r="2.2" fill="#f6821f"/><circle cx="494.5" cy="746.38" r="2.2" fill="#f6821f"/><circle cx="496.5" cy="745.59" r="2.2" fill="#f6821f"/><circle cx="499" cy="745.52" r="2.2" fill="#f6821f"/><circle cx="501.5" cy="746.67" r="2.2" fill="#f6821f"/><circle cx="504.3" cy="745.86" r="2.2" fill="#f6821f"/></svg><div class="a" style="left:61.53px;top:754px;font-size:12.2px;transform:scaleX(1.0689);transform-origin:0 0;color:#444">0</div><div class="a" style="left:125.96px;top:754px;font-size:12.2px;transform:scaleX(1.0830);transform-origin:0 0;color:#444">1M</div><div class="a" style="left:196.14px;top:754px;font-size:12.2px;transform:scaleX(1.0654);transform-origin:0 0;color:#444">2M</div><div class="a" style="left:266.18px;top:754px;font-size:12.2px;transform:scaleX(1.0568);transform-origin:0 0;color:#444">3M</div><div class="a" style="left:336.35px;top:754px;font-size:12.2px;transform:scaleX(1.0400);transform-origin:0 0;color:#444">4M</div><div class="a" style="left:405.98px;top:754px;font-size:12.2px;transform:scaleX(1.0568);transform-origin:0 0;color:#444">5M</div><div class="a" style="left:475.74px;top:754px;font-size:12.2px;transform:scaleX(1.0654);transform-origin:0 0;color:#444">6M</div><div class="a" style="left:545.64px;top:754px;font-size:12.2px;transform:scaleX(1.0654);transform-origin:0 0;color:#444">7M</div><div class="a" style="left:33px;top:783px;width:576px;height:2px;background:#22ab56"></div><div class="panel" style="left:16px;top:806px;width:610px;height:113px;border-radius:6px"></div><div class="a" style="left:33.46px;top:816px;font-size:16px;transform:scaleX(0.9944);transform-origin:0 0;">1MB download test</div><div class="a" style="left:173.38px;top:817px;font-size:14px;transform:scaleX(0.9370);transform-origin:0 0;">(8/8)</div><svg style="left:595.9px;top:821.8px" width="12.2" height="6.4" viewBox="0 0 12.2 6.4"><path d="M0 0H12.2L6.1 6.4Z" fill="#4a4a4a"/></svg><div class="a" style="left:38.41px;top:852px;font-size:12.5px;transform:scaleX(1.0522);transform-origin:0 0;color:#444">bps</div><svg style="left:0;top:806px" width="1920" height="113" viewBox="0 806 1920 113"><rect x="134.4" y="845.2" width="1" height="26.3" fill="#e6e6e6"/><rect x="204.3" y="845.2" width="1" height="26.3" fill="#e6e6e6"/><rect x="274.20000000000005" y="845.2" width="1" height="26.3" fill="#e6e6e6"/><rect x="344.1" y="845.2" width="1" height="26.3" fill="#e6e6e6"/><rect x="414.0" y="845.2" width="1" height="26.3" fill="#e6e6e6"/><rect x="483.90000000000003" y="845.2" width="1" height="26.3" fill="#e6e6e6"/><rect x="553.8000000000001" y="845.2" width="1" height="26.3" fill="#e6e6e6"/><path d="M526.5 857.1H540.5M526.5 854.5V859.7" stroke="#f6821f" stroke-width="1" fill="none"/><path d="M582 857.1H591.5M591.5 854.5V859.7" stroke="#f6821f" stroke-width="1" fill="none"/><rect x="540.5" y="851.3000000000001" width="41.5" height="11.6" fill="#f6821f" fill-opacity="0.45" stroke="#f6821f" stroke-width="1" rx="0.8"/><path d="M557 851.3000000000001V862.9" stroke="#f6821f" stroke-width="1"/><path d="M559.5 851.3000000000001V862.9" stroke="#f6821f" stroke-width="1" stroke-dasharray="1.5 1"/><circle cx="527" cy="866.83" r="2.2" fill="#f6821f"/><circle cx="529" cy="867.89" r="2.2" fill="#f6821f"/><circle cx="552.5" cy="867.16" r="2.2" fill="#f6821f"/><circle cx="555" cy="867.67" r="2.2" fill="#f6821f"/><circle cx="560" cy="867.20" r="2.2" fill="#f6821f"/><circle cx="579" cy="867.20" r="2.2" fill="#f6821f"/><circle cx="585" cy="867.20" r="2.2" fill="#f6821f"/><circle cx="592" cy="867.20" r="2.2" fill="#f6821f"/></svg><div class="a" style="left:61.53px;top:875px;font-size:12.2px;transform:scaleX(1.0689);transform-origin:0 0;color:#444">0</div><div class="a" style="left:125.96px;top:875px;font-size:12.2px;transform:scaleX(1.0830);transform-origin:0 0;color:#444">1M</div><div class="a" style="left:196.14px;top:875px;font-size:12.2px;transform:scaleX(1.0654);transform-origin:0 0;color:#444">2M</div><div class="a" style="left:266.18px;top:875px;font-size:12.2px;transform:scaleX(1.0568);transform-origin:0 0;color:#444">3M</div><div class="a" style="left:336.35px;top:875px;font-size:12.2px;transform:scaleX(1.0400);transform-origin:0 0;color:#444">4M</div><div class="a" style="left:405.98px;top:875px;font-size:12.2px;transform:scaleX(1.0568);transform-origin:0 0;color:#444">5M</div><div class="a" style="left:475.74px;top:875px;font-size:12.2px;transform:scaleX(1.0654);transform-origin:0 0;color:#444">6M</div><div class="a" style="left:545.64px;top:875px;font-size:12.2px;transform:scaleX(1.0654);transform-origin:0 0;color:#444">7M</div><div class="a" style="left:33px;top:904px;width:576px;height:2px;background:#22ab56"></div><div class="panel" style="left:646px;top:685px;width:611px;height:113px;border-radius:6px"></div><div class="a" style="left:663.45px;top:695px;font-size:16px;">100kB upload test</div><div class="a" style="left:795.46px;top:696px;font-size:14px;transform:scaleX(0.9630);transform-origin:0 0;">(8/8)</div><svg style="left:1226.9px;top:700.8px" width="12.2" height="6.4" viewBox="0 0 12.2 6.4"><path d="M0 0H12.2L6.1 6.4Z" fill="#4a4a4a"/></svg><div class="a" style="left:668.41px;top:731px;font-size:12.5px;transform:scaleX(1.0522);transform-origin:0 0;color:#444">bps</div><svg style="left:0;top:685px" width="1920" height="113" viewBox="0 685 1920 113"><rect x="799.7" y="724.2" width="1" height="26.3" fill="#e6e6e6"/><rect x="904.9" y="724.2" width="1" height="26.3" fill="#e6e6e6"/><rect x="1010.1" y="724.2" width="1" height="26.3" fill="#e6e6e6"/><rect x="1115.3" y="724.2" width="1" height="26.3" fill="#e6e6e6"/><rect x="1220.5" y="724.2" width="1" height="26.3" fill="#e6e6e6"/><path d="M1054.5 736.1H1097.5M1054.5 733.5V738.7" stroke="#8d1eb1" stroke-width="1" fill="none"/><path d="M1189 736.1H1222M1222 733.5V738.7" stroke="#8d1eb1" stroke-width="1" fill="none"/><rect x="1097.5" y="730.3000000000001" width="91.5" height="11.6" fill="#8d1eb1" fill-opacity="0.45" stroke="#8d1eb1" stroke-width="1" rx="0.8"/><path d="M1145.5 730.3000000000001V741.9" stroke="#8d1eb1" stroke-width="1"/><path d="M1142.5 730.3000000000001V741.9" stroke="#8d1eb1" stroke-width="1" stroke-dasharray="1.5 1"/><circle cx="1054.5" cy="746.20" r="2.2" fill="#8d1eb1"/><circle cx="1086.5" cy="746.20" r="2.2" fill="#8d1eb1"/><circle cx="1107.5" cy="746.20" r="2.2" fill="#8d1eb1"/><circle cx="1144" cy="746.17" r="2.2" fill="#8d1eb1"/><circle cx="1146" cy="746.39" r="2.2" fill="#8d1eb1"/><circle cx="1166.5" cy="746.20" r="2.2" fill="#8d1eb1"/><circle cx="1211.5" cy="746.20" r="2.2" fill="#8d1eb1"/><circle cx="1222" cy="746.20" r="2.2" fill="#8d1eb1"/></svg><div class="a" style="left:691.53px;top:754px;font-size:12.2px;transform:scaleX(1.0689);transform-origin:0 0;color:#444">0</div><div class="a" style="left:785.10px;top:754px;font-size:12.2px;transform:scaleX(1.1177);transform-origin:0 0;color:#444">100k</div><div class="a" style="left:890.59px;top:754px;font-size:12.2px;transform:scaleX(1.1069);transform-origin:0 0;color:#444">200k</div><div class="a" style="left:995.93px;top:754px;font-size:12.2px;transform:scaleX(1.1015);transform-origin:0 0;color:#444">300k</div><div class="a" style="left:1101.41px;top:754px;font-size:12.2px;transform:scaleX(1.0910);transform-origin:0 0;color:#444">400k</div><div class="a" style="left:1206.33px;top:754px;font-size:12.2px;transform:scaleX(1.1015);transform-origin:0 0;color:#444">500k</div><div class="a" style="left:663px;top:783px;width:577px;height:2px;background:#22ab56"></div><div class="panel" style="left:1277px;top:685px;width:610px;height:113px;border-radius:6px"></div><div class="a" style="left:1294.47px;top:695px;font-size:16px;transform:scaleX(0.9855);transform-origin:0 0;">Unloaded latency</div><div class="a" style="left:1421.17px;top:696px;font-size:14px;transform:scaleX(0.9431);transform-origin:0 0;">(20/20)</div><svg style="left:1856.9px;top:700.8px" width="12.2" height="6.4" viewBox="0 0 12.2 6.4"><path d="M0 0H12.2L6.1 6.4Z" fill="#4a4a4a"/></svg><div class="a" style="left:1293.75px;top:731px;font-size:12.5px;transform:scaleX(1.0866);transform-origin:0 0;color:#444">ms</div><svg style="left:0;top:685px" width="1920" height="113" viewBox="0 685 1920 113"><rect x="1459.0" y="724.2" width="1" height="26.3" fill="#e6e6e6"/><rect x="1601.6999999999998" y="724.2" width="1" height="26.3" fill="#e6e6e6"/><rect x="1744.3999999999999" y="724.2" width="1" height="26.3" fill="#e6e6e6"/><path d="M1402 736.1H1404.7M1402 733.5V738.7" stroke="#0a47c6" stroke-width="1" fill="none"/><path d="M1413 736.1H1414.7M1414.7 733.5V738.7" stroke="#0a47c6" stroke-width="1" fill="none"/><rect x="1404.7" y="730.3000000000001" width="8.299999999999955" height="11.6" fill="#0a47c6" fill-opacity="0.45" stroke="#0a47c6" stroke-width="1" rx="0.8"/><path d="M1408 730.3000000000001V741.9" stroke="#0a47c6" stroke-width="1"/><path d="M1409.5 730.3000000000001V741.9" stroke="#0a47c6" stroke-width="1" stroke-dasharray="1.5 1"/><path d="M1444.5 730.9000000000001V741.9" stroke="#0a47c6" stroke-width="1" stroke-dasharray="2 1.3"/><circle cx="1402" cy="745.71" r="2.2" fill="#0a47c6"/><circle cx="1404" cy="746.39" r="2.2" fill="#0a47c6"/><circle cx="1405.5" cy="746.72" r="2.2" fill="#0a47c6"/><circle cx="1407" cy="746.23" r="2.2" fill="#0a47c6"/><circle cx="1408.5" cy="746.54" r="2.2" fill="#0a47c6"/><circle cx="1410" cy="746.44" r="2.2" fill="#0a47c6"/><circle cx="1412" cy="745.59" r="2.2" fill="#0a47c6"/><circle cx="1414" cy="746.56" r="2.2" fill="#0a47c6"/><circle cx="1704.2" cy="746.20" r="2.2" fill="#0a47c6"/><circle cx="1852.3" cy="746.20" r="2.2" fill="#0a47c6"/></svg><div class="a" style="left:1313.33px;top:754px;font-size:12.2px;transform:scaleX(1.0689);transform-origin:0 0;color:#444">0</div><div class="a" style="left:1452.19px;top:754px;font-size:12.2px;transform:scaleX(1.1018);transform-origin:0 0;color:#444">50</div><div class="a" style="left:1590.64px;top:754px;font-size:12.2px;transform:scaleX(1.1263);transform-origin:0 0;color:#444">100</div><div class="a" style="left:1733.34px;top:754px;font-size:12.2px;transform:scaleX(1.1263);transform-origin:0 0;color:#444">150</div><div class="a" style="left:1294px;top:783px;width:576px;height:2px;background:#22ab56"></div><div class="panel" style="left:1277px;top:806px;width:610px;height:113px;border-radius:6px"></div><div class="a" style="left:1294.45px;top:816px;font-size:16px;">Latency during download</div><div class="a" style="left:1475.64px;top:817px;font-size:14px;transform:scaleX(0.9816);transform-origin:0 0;">(19)</div><svg style="left:1856.9px;top:821.8px" width="12.2" height="6.4" viewBox="0 0 12.2 6.4"><path d="M0 0H12.2L6.1 6.4Z" fill="#4a4a4a"/></svg><div class="a" style="left:1293.75px;top:852px;font-size:12.5px;transform:scaleX(1.0866);transform-origin:0 0;color:#444">ms</div><svg style="left:0;top:806px" width="1920" height="113" viewBox="0 806 1920 113"><rect x="1459.0" y="845.2" width="1" height="26.3" fill="#e6e6e6"/><rect x="1601.6999999999998" y="845.2" width="1" height="26.3" fill="#e6e6e6"/><rect x="1744.3999999999999" y="845.2" width="1" height="26.3" fill="#e6e6e6"/><path d="M1402 857.1H1404.5M1402 854.5V859.7" stroke="#f6821f" stroke-width="1" fill="none"/><path d="M1414 857.1H1419.5M1419.5 854.5V859.7" stroke="#f6821f" stroke-width="1" fill="none"/><rect x="1404.5" y="851.3000000000001" width="9.5" height="11.6" fill="#f6821f" fill-opacity="0.45" stroke="#f6821f" stroke-width="1" rx="0.8"/><path d="M1409 851.3000000000001V862.9" stroke="#f6821f" stroke-width="1"/><path d="M1411 851.3000000000001V862.9" stroke="#f6821f" stroke-width="1" stroke-dasharray="1.5 1"/><path d="M1426.5 851.9000000000001V862.9" stroke="#f6821f" stroke-width="1" stroke-dasharray="2 1.3"/><circle cx="1402" cy="867.33" r="2.2" fill="#f6821f"/><circle cx="1404" cy="866.92" r="2.2" fill="#f6821f"/><circle cx="1406" cy="866.54" r="2.2" fill="#f6821f"/><circle cx="1408" cy="867.71" r="2.2" fill="#f6821f"/><circle cx="1410" cy="867.16" r="2.2" fill="#f6821f"/><circle cx="1412" cy="867.51" r="2.2" fill="#f6821f"/><circle cx="1414" cy="867.73" r="2.2" fill="#f6821f"/><circle cx="1420" cy="867.20" r="2.2" fill="#f6821f"/><circle cx="1451" cy="867.20" r="2.2" fill="#f6821f"/><circle cx="1544.8" cy="867.20" r="2.2" fill="#f6821f"/><circle cx="1565" cy="867.20" r="2.2" fill="#f6821f"/></svg><div class="a" style="left:1313.33px;top:875px;font-size:12.2px;transform:scaleX(1.0689);transform-origin:0 0;color:#444">0</div><div class="a" style="left:1452.19px;top:875px;font-size:12.2px;transform:scaleX(1.1018);transform-origin:0 0;color:#444">50</div><div class="a" style="left:1590.64px;top:875px;font-size:12.2px;transform:scaleX(1.1263);transform-origin:0 0;color:#444">100</div><div class="a" style="left:1733.34px;top:875px;font-size:12.2px;transform:scaleX(1.1263);transform-origin:0 0;color:#444">150</div><div class="a" style="left:1294px;top:904px;width:576px;height:2px;background:#dcdcdc"></div><div class="a b" style="left:15.59px;top:647px;font-size:20px;transform:scaleX(0.9515);transform-origin:0 0;">Download Measurements</div><svg style="left:249.2px;top:651.0px" width="12.8" height="12.8" viewBox="-6.4 -6.4 12.8 12.8"><circle r="5.4" fill="none" stroke="#5c5c5c" stroke-width="0.9"/><path d="M-1.3 -1.4H0.55V2.7H1.5M-1.5 2.7H0.55" fill="none" stroke="#8c8c8c" stroke-width="0.9"/><rect x="-0.75" y="-3.7" width="1.3" height="1.3" fill="#8c8c8c"/></svg><div class="a b" style="left:646.11px;top:647px;font-size:20px;transform:scaleX(0.9509);transform-origin:0 0;">Upload Measurements</div><svg style="left:853.2px;top:651.0px" width="12.8" height="12.8" viewBox="-6.4 -6.4 12.8 12.8"><circle r="5.4" fill="none" stroke="#5c5c5c" stroke-width="0.9"/><path d="M-1.3 -1.4H0.55V2.7H1.5M-1.5 2.7H0.55" fill="none" stroke="#8c8c8c" stroke-width="0.9"/><rect x="-0.75" y="-3.7" width="1.3" height="1.3" fill="#8c8c8c"/></svg><div class="a b" style="left:1276.29px;top:647px;font-size:20px;transform:scaleX(0.9511);transform-origin:0 0;">Latency Measurements</div><svg style="left:1490.9999999999998px;top:651.0px" width="12.8" height="12.8" viewBox="-6.4 -6.4 12.8 12.8"><circle r="5.4" fill="none" stroke="#5c5c5c" stroke-width="0.9"/><path d="M-1.3 -1.4H0.55V2.7H1.5M-1.5 2.7H0.55" fill="none" stroke="#8c8c8c" stroke-width="0.9"/><rect x="-0.75" y="-3.7" width="1.3" height="1.3" fill="#8c8c8c"/></svg><div class="a" style="left:1903px;top:0;width:17px;height:917px;background:#f1f1f1"></div><div class="a" style="left:1905px;top:17px;width:13px;height:629px;background:#c1c1c1"></div><svg style="left:1907px;top:6px" width="9" height="5" viewBox="0 0 9 5"><path d="M0 5H9L4.500 0Z" fill="#a3a3a3"/></svg><svg style="left:1907px;top:906px" width="9" height="5" viewBox="0 0 9 5"><path d="M0 0H9L4.500 5Z" fill="#505050"/></svg></body></html>
